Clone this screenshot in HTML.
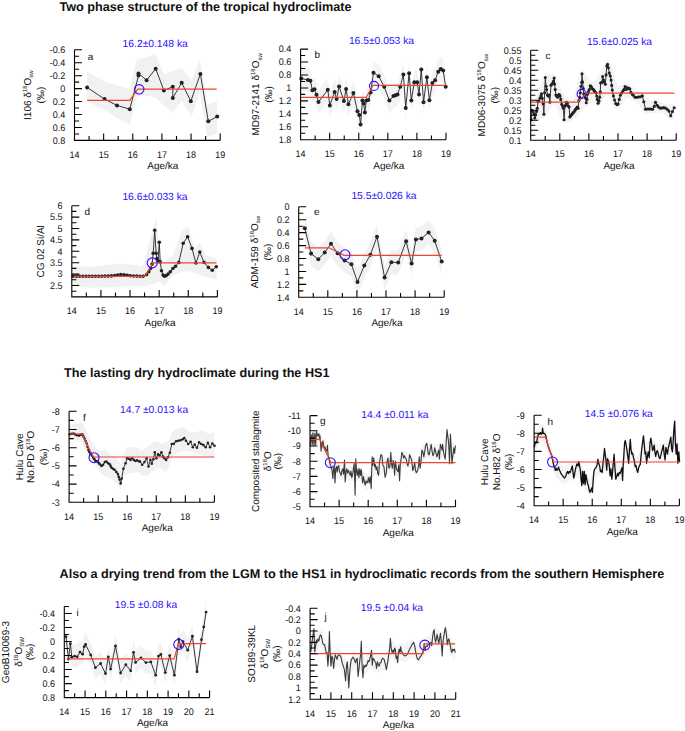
<!DOCTYPE html>
<html><head><meta charset="utf-8"><style>
html,body{margin:0;padding:0;background:#fff;width:685px;height:731px;overflow:hidden}
svg{display:block}
text{font-family:"Liberation Sans", sans-serif;text-rendering:geometricPrecision}
</style></head><body>
<svg width="685" height="731" viewBox="0 0 685 731" fill="#111">
<text x="59.5" y="10.8" font-size="12.65" font-weight="bold">Two phase structure of the tropical hydroclimate</text>
<text x="64" y="377" font-size="12.65" font-weight="bold">The lasting dry hydroclimate during the HS1</text>
<text x="59.5" y="578" font-size="12.65" font-weight="bold">Also a drying trend from the LGM to the HS1 in hydroclimatic records from the southern Hemisphere</text>
<polygon points="87.0,71.5 105.4,82.0 117.0,85.2 129.7,89.5 134.0,70.4 137.2,59.8 147.7,56.6 155.2,53.4 164.3,74.9 172.7,71.0 181.2,67.7 191.6,80.1 200.0,59.3 207.2,104.8 216.9,100.9 216.9,133.4 207.2,137.3 200.0,93.1 191.6,116.5 181.8,100.9 172.7,112.6 164.3,106.1 156.2,97.9 147.7,95.8 137.2,95.8 134.0,108.5 129.7,124.4 117.0,118.0 105.4,110.6 87.0,101.1" fill="#f1f1f1"/>
<polyline points="87.1,87.4 104.6,99.1 117.0,105.4 129.8,109.2 138.5,75.5 138.5,73.4 146.6,80.2 155.7,68.7 163.9,90.5 172.8,86.7 172.8,97.9 181.7,82.8 190.8,101.2 200.4,73.9 208.3,121.3 217.2,116.6" fill="none" stroke="#222" stroke-width="0.9" stroke-linejoin="round"/>
<circle cx="87.1" cy="87.4" r="2.0" fill="#222"/><circle cx="104.6" cy="99.1" r="2.0" fill="#222"/><circle cx="117.0" cy="105.4" r="2.0" fill="#222"/><circle cx="129.8" cy="109.2" r="2.0" fill="#222"/><circle cx="138.5" cy="75.5" r="2.0" fill="#222"/><circle cx="138.5" cy="73.4" r="2.0" fill="#222"/><circle cx="146.6" cy="80.2" r="2.0" fill="#222"/><circle cx="155.7" cy="68.7" r="2.0" fill="#222"/><circle cx="163.9" cy="90.5" r="2.0" fill="#222"/><circle cx="172.8" cy="86.7" r="2.0" fill="#222"/><circle cx="172.8" cy="97.9" r="2.0" fill="#222"/><circle cx="181.7" cy="82.8" r="2.0" fill="#222"/><circle cx="190.8" cy="101.2" r="2.0" fill="#222"/><circle cx="200.4" cy="73.9" r="2.0" fill="#222"/><circle cx="208.3" cy="121.3" r="2.0" fill="#222"/><circle cx="217.2" cy="116.6" r="2.0" fill="#222"/>
<polyline points="87.1,100.3 129.8,100.3 137.8,89.1 216.7,89.1" fill="none" stroke="#ee4433" stroke-width="1.2"/>
<circle cx="139.2" cy="89.3" r="4.7" fill="none" stroke="#2a10ff" stroke-width="1.1"/>
<text transform="translate(74.50 154.20) scale(1 1.07)" y="3.22" font-size="9" text-anchor="middle">14</text>
<text transform="translate(103.64 154.20) scale(1 1.07)" y="3.22" font-size="9" text-anchor="middle">15</text>
<text transform="translate(132.78 154.20) scale(1 1.07)" y="3.22" font-size="9" text-anchor="middle">16</text>
<text transform="translate(161.92 154.20) scale(1 1.07)" y="3.22" font-size="9" text-anchor="middle">17</text>
<text transform="translate(191.06 154.20) scale(1 1.07)" y="3.22" font-size="9" text-anchor="middle">18</text>
<text transform="translate(220.20 154.20) scale(1 1.07)" y="3.22" font-size="9" text-anchor="middle">19</text>
<text transform="translate(65.20 49.80) scale(1 1.07)" y="3.1" font-size="9" text-anchor="end">-0.6</text>
<text transform="translate(65.20 62.74) scale(1 1.07)" y="3.1" font-size="9" text-anchor="end">-0.4</text>
<text transform="translate(65.20 75.69) scale(1 1.07)" y="3.1" font-size="9" text-anchor="end">-0.2</text>
<text transform="translate(65.20 88.63) scale(1 1.07)" y="3.1" font-size="9" text-anchor="end">0</text>
<text transform="translate(65.20 101.57) scale(1 1.07)" y="3.1" font-size="9" text-anchor="end">0.2</text>
<text transform="translate(65.20 114.51) scale(1 1.07)" y="3.1" font-size="9" text-anchor="end">0.4</text>
<text transform="translate(65.20 127.46) scale(1 1.07)" y="3.1" font-size="9" text-anchor="end">0.6</text>
<text transform="translate(65.20 140.40) scale(1 1.07)" y="3.1" font-size="9" text-anchor="end">0.8</text>
<path d="M89.07 140.40V136.10M103.64 140.40V133.40M118.21 140.40V136.10M132.78 140.40V133.40M147.35 140.40V136.10M161.92 140.40V133.40M176.49 140.40V136.10M191.06 140.40V133.40M205.63 140.40V136.10M220.20 140.40V133.40M74.50 49.80H82.00M74.50 56.27H79.10M74.50 62.74H82.00M74.50 69.21H79.10M74.50 75.69H82.00M74.50 82.16H79.10M74.50 88.63H82.00M74.50 95.10H79.10M74.50 101.57H82.00M74.50 108.04H79.10M74.50 114.51H82.00M74.50 120.99H79.10M74.50 127.46H82.00M74.50 133.93H79.10M74.50 49.80V140.40H220.20" stroke="#000" stroke-width="1.1" fill="none"/>
<text x="162.85" y="169.20" font-size="10" text-anchor="middle">Age/ka</text>
<text x="87.8" y="59.8" font-size="10">a</text>
<text x="155.2" y="46.7" font-size="10.3" fill="#2a10ff" text-anchor="middle">16.2±0.148 ka</text>
<text transform="translate(30.5 95.1) rotate(-90)" font-size="10" text-anchor="middle">I106 δ<tspan font-size="6" dy="-4">18</tspan><tspan dy="4">O</tspan><tspan font-size="6" dy="2.5">sw</tspan></text>
<text transform="translate(43.5 95.1) rotate(-90)" font-size="10" text-anchor="middle">(‰)</text>
<polygon points="301.3,66.5 307.9,68.1 310.4,68.7 312.4,78.2 314.5,77.3 316.5,82.8 318.5,90.0 327.8,77.8 329.8,93.4 334.6,80.0 336.6,87.1 339.1,74.4 343.9,89.1 346.1,76.9 348.4,92.3 353.4,81.0 357.5,99.3 359.3,102.9 360.6,112.4 362.4,88.6 363.6,91.4 364.9,100.4 366.3,88.4 368.3,88.0 370.6,80.5 373.5,60.8 378.7,64.2 384.2,74.8 389.4,88.6 393.4,84.1 395.5,83.2 397.5,82.5 400.2,74.8 403.4,62.4 405.7,95.9 409.1,61.3 411.3,88.4 414.3,70.3 417.2,70.3 419.0,82.5 421.3,57.6 423.5,90.2 426.9,65.3 429.4,88.2 432.4,71.0 435.1,68.3 438.2,59.7 440.7,57.0 443.2,58.5 445.7,74.8 445.7,98.8 443.2,82.5 440.7,81.0 438.2,83.7 435.1,92.3 432.4,95.0 429.4,112.2 426.9,89.3 423.5,114.2 421.3,81.6 419.0,106.5 417.2,94.3 414.3,94.3 411.3,112.4 409.1,85.3 405.7,119.9 403.4,86.4 400.2,98.8 397.5,106.5 395.5,107.2 393.4,108.1 389.4,112.6 384.2,98.8 378.7,88.2 373.5,84.8 370.6,104.5 368.3,112.0 366.3,112.4 364.9,124.4 363.6,115.4 362.4,112.6 360.6,136.4 359.3,126.9 357.5,123.3 353.4,105.0 348.4,116.3 346.1,100.9 343.9,113.1 339.1,98.4 336.6,111.1 334.6,104.0 329.8,117.4 327.8,101.8 318.5,114.0 316.5,106.8 314.5,101.3 312.4,102.2 310.4,92.7 307.9,92.1 301.3,90.5" fill="#f3f3f3"/>
<polyline points="301.3,78.5 307.9,80.1 310.4,80.7 312.4,90.2 314.5,89.3 316.5,94.8 318.5,102.0 327.8,89.8 329.8,105.4 334.6,92.0 336.6,99.1 339.1,86.4 343.9,101.1 346.1,88.9 348.4,104.3 353.4,93.0 357.5,111.3 359.3,114.9 360.6,124.4 362.4,100.6 363.6,103.4 364.9,112.4 366.3,100.4 368.3,100.0 370.6,92.5 373.5,72.8 378.7,76.2 384.2,86.8 389.4,100.6 393.4,96.1 395.5,95.2 397.5,94.5 400.2,86.8 403.4,74.4 405.7,107.9 409.1,73.3 411.3,100.4 414.3,82.3 417.2,82.3 419.0,94.5 421.3,69.6 423.5,102.2 426.9,77.3 429.4,100.2 432.4,83.0 435.1,80.3 438.2,71.7 440.7,69.0 443.2,70.5 445.7,86.8" fill="none" stroke="#222" stroke-width="0.9" stroke-linejoin="round"/>
<circle cx="301.3" cy="78.5" r="2.0" fill="#222"/><circle cx="307.9" cy="80.1" r="2.0" fill="#222"/><circle cx="310.4" cy="80.7" r="2.0" fill="#222"/><circle cx="312.4" cy="90.2" r="2.0" fill="#222"/><circle cx="314.5" cy="89.3" r="2.0" fill="#222"/><circle cx="316.5" cy="94.8" r="2.0" fill="#222"/><circle cx="318.5" cy="102.0" r="2.0" fill="#222"/><circle cx="327.8" cy="89.8" r="2.0" fill="#222"/><circle cx="329.8" cy="105.4" r="2.0" fill="#222"/><circle cx="334.6" cy="92.0" r="2.0" fill="#222"/><circle cx="336.6" cy="99.1" r="2.0" fill="#222"/><circle cx="339.1" cy="86.4" r="2.0" fill="#222"/><circle cx="343.9" cy="101.1" r="2.0" fill="#222"/><circle cx="346.1" cy="88.9" r="2.0" fill="#222"/><circle cx="348.4" cy="104.3" r="2.0" fill="#222"/><circle cx="353.4" cy="93.0" r="2.0" fill="#222"/><circle cx="357.5" cy="111.3" r="2.0" fill="#222"/><circle cx="359.3" cy="114.9" r="2.0" fill="#222"/><circle cx="360.6" cy="124.4" r="2.0" fill="#222"/><circle cx="362.4" cy="100.6" r="2.0" fill="#222"/><circle cx="363.6" cy="103.4" r="2.0" fill="#222"/><circle cx="364.9" cy="112.4" r="2.0" fill="#222"/><circle cx="366.3" cy="100.4" r="2.0" fill="#222"/><circle cx="368.3" cy="100.0" r="2.0" fill="#222"/><circle cx="370.6" cy="92.5" r="2.0" fill="#222"/><circle cx="373.5" cy="72.8" r="2.0" fill="#222"/><circle cx="378.7" cy="76.2" r="2.0" fill="#222"/><circle cx="384.2" cy="86.8" r="2.0" fill="#222"/><circle cx="389.4" cy="100.6" r="2.0" fill="#222"/><circle cx="393.4" cy="96.1" r="2.0" fill="#222"/><circle cx="395.5" cy="95.2" r="2.0" fill="#222"/><circle cx="397.5" cy="94.5" r="2.0" fill="#222"/><circle cx="400.2" cy="86.8" r="2.0" fill="#222"/><circle cx="403.4" cy="74.4" r="2.0" fill="#222"/><circle cx="405.7" cy="107.9" r="2.0" fill="#222"/><circle cx="409.1" cy="73.3" r="2.0" fill="#222"/><circle cx="411.3" cy="100.4" r="2.0" fill="#222"/><circle cx="414.3" cy="82.3" r="2.0" fill="#222"/><circle cx="417.2" cy="82.3" r="2.0" fill="#222"/><circle cx="419.0" cy="94.5" r="2.0" fill="#222"/><circle cx="421.3" cy="69.6" r="2.0" fill="#222"/><circle cx="423.5" cy="102.2" r="2.0" fill="#222"/><circle cx="426.9" cy="77.3" r="2.0" fill="#222"/><circle cx="429.4" cy="100.2" r="2.0" fill="#222"/><circle cx="432.4" cy="83.0" r="2.0" fill="#222"/><circle cx="435.1" cy="80.3" r="2.0" fill="#222"/><circle cx="438.2" cy="71.7" r="2.0" fill="#222"/><circle cx="440.7" cy="69.0" r="2.0" fill="#222"/><circle cx="443.2" cy="70.5" r="2.0" fill="#222"/><circle cx="445.7" cy="86.8" r="2.0" fill="#222"/>
<polyline points="301.3,97.3 366.3,97.3 373.1,85.3 445.7,85.3" fill="none" stroke="#ee4433" stroke-width="1.2"/>
<circle cx="374.0" cy="85.9" r="4.5" fill="none" stroke="#2a10ff" stroke-width="1.1"/>
<text transform="translate(300.60 153.50) scale(1 1.07)" y="3.22" font-size="9" text-anchor="middle">14</text>
<text transform="translate(329.68 153.50) scale(1 1.07)" y="3.22" font-size="9" text-anchor="middle">15</text>
<text transform="translate(358.76 153.50) scale(1 1.07)" y="3.22" font-size="9" text-anchor="middle">16</text>
<text transform="translate(387.84 153.50) scale(1 1.07)" y="3.22" font-size="9" text-anchor="middle">17</text>
<text transform="translate(416.92 153.50) scale(1 1.07)" y="3.22" font-size="9" text-anchor="middle">18</text>
<text transform="translate(446.00 153.50) scale(1 1.07)" y="3.22" font-size="9" text-anchor="middle">19</text>
<text transform="translate(291.30 49.10) scale(1 1.07)" y="3.1" font-size="9" text-anchor="end">0.4</text>
<text transform="translate(291.30 62.04) scale(1 1.07)" y="3.1" font-size="9" text-anchor="end">0.6</text>
<text transform="translate(291.30 74.99) scale(1 1.07)" y="3.1" font-size="9" text-anchor="end">0.8</text>
<text transform="translate(291.30 87.93) scale(1 1.07)" y="3.1" font-size="9" text-anchor="end">1</text>
<text transform="translate(291.30 100.87) scale(1 1.07)" y="3.1" font-size="9" text-anchor="end">1.2</text>
<text transform="translate(291.30 113.81) scale(1 1.07)" y="3.1" font-size="9" text-anchor="end">1.4</text>
<text transform="translate(291.30 126.76) scale(1 1.07)" y="3.1" font-size="9" text-anchor="end">1.6</text>
<text transform="translate(291.30 139.70) scale(1 1.07)" y="3.1" font-size="9" text-anchor="end">1.8</text>
<path d="M315.14 139.70V135.40M329.68 139.70V132.70M344.22 139.70V135.40M358.76 139.70V132.70M373.30 139.70V135.40M387.84 139.70V132.70M402.38 139.70V135.40M416.92 139.70V132.70M431.46 139.70V135.40M446.00 139.70V132.70M300.60 49.10H308.10M300.60 55.57H305.20M300.60 62.04H308.10M300.60 68.51H305.20M300.60 74.99H308.10M300.60 81.46H305.20M300.60 87.93H308.10M300.60 94.40H305.20M300.60 100.87H308.10M300.60 107.34H305.20M300.60 113.81H308.10M300.60 120.29H305.20M300.60 126.76H308.10M300.60 133.23H305.20M300.60 49.10V139.70H446.00" stroke="#000" stroke-width="1.1" fill="none"/>
<text x="388.80" y="168.50" font-size="10" text-anchor="middle">Age/ka</text>
<text x="314.4" y="57.9" font-size="10">b</text>
<text x="381.5" y="43.8" font-size="10.3" fill="#2a10ff" text-anchor="middle">16.5±0.053 ka</text>
<text transform="translate(259.2 94.4) rotate(-90)" font-size="10" text-anchor="middle">MD97-2141 δ<tspan font-size="6" dy="-4">18</tspan><tspan dy="4">O</tspan><tspan font-size="6" dy="2.5">sw</tspan></text>
<text transform="translate(272.2 94.4) rotate(-90)" font-size="10" text-anchor="middle">(‰)</text>
<polygon points="531.3,103.4 532.9,101.2 534.5,98.9 536.1,95.6 537.7,92.1 539.3,87.3 540.9,83.2 542.5,79.9 544.1,76.6 545.7,73.5 547.3,73.6 548.9,73.7 550.5,73.8 552.2,74.0 553.8,74.1 555.4,75.3 557.0,78.6 558.6,81.8 560.2,85.5 561.8,90.3 563.4,93.9 565.0,95.4 566.6,97.0 568.2,98.9 569.8,99.9 571.4,100.9 573.0,99.9 574.6,96.0 576.2,89.5 577.8,82.8 579.4,76.1 581.1,71.4 582.7,69.7 584.3,72.1 585.9,74.5 587.5,76.9 589.1,79.3 590.7,81.7 592.3,82.2 593.9,81.6 595.5,79.8 597.1,78.0 598.7,76.2 600.3,71.8 601.9,68.1 603.5,65.6 605.1,63.1 606.7,60.7 608.3,60.3 609.9,62.1 611.6,65.2 613.2,71.6 614.8,77.3 616.4,82.6 618.0,85.3 619.6,86.6 621.2,84.8 622.8,83.5 624.4,82.5 626.0,82.8 627.6,83.0 629.2,83.4 630.8,84.5 632.4,86.0 634.0,87.6 635.6,89.2 637.2,90.7 638.8,91.4 640.4,91.8 642.1,91.9 643.7,93.0 645.3,95.7 646.9,98.3 648.5,99.6 650.1,100.8 651.7,101.0 653.3,99.6 654.9,98.3 656.5,98.9 658.1,99.8 659.7,100.9 661.3,101.9 662.9,103.0 664.5,103.6 666.1,103.8 667.7,103.8 669.3,103.9 670.9,103.9 672.6,103.9 674.2,103.8 674.2,119.7 672.6,119.7 670.9,119.7 669.3,118.8 667.7,117.5 666.1,116.0 664.5,114.5 662.9,113.0 661.3,112.4 659.7,112.4 658.1,112.6 656.5,112.8 654.9,113.1 653.3,113.3 651.7,113.3 650.1,113.3 648.5,113.3 646.9,113.3 645.3,113.3 643.7,111.8 642.1,109.4 640.4,107.0 638.8,104.6 637.2,102.2 635.6,101.3 634.0,100.9 632.4,100.2 630.8,99.3 629.2,98.1 627.6,97.7 626.0,98.5 624.4,100.5 622.8,102.9 621.2,105.6 619.6,107.5 618.0,108.5 616.4,108.6 614.8,107.7 613.2,105.9 611.6,103.0 609.9,98.9 608.3,94.9 606.7,94.3 605.1,95.8 603.5,98.4 601.9,102.2 600.3,106.0 598.7,107.2 597.1,106.5 595.5,104.4 593.9,103.6 592.3,103.5 590.7,103.4 589.1,104.1 587.5,106.0 585.9,106.7 584.3,107.8 582.7,109.1 581.1,111.0 579.4,113.2 577.8,115.8 576.2,117.5 574.6,119.1 573.0,120.1 571.4,120.7 569.8,121.5 568.2,122.0 566.6,122.6 565.0,123.1 563.4,123.7 561.8,120.9 560.2,116.9 558.6,112.4 557.0,108.9 555.4,105.4 553.8,104.6 552.2,105.2 550.5,108.6 548.9,111.0 547.3,113.4 545.7,115.8 544.1,118.2 542.5,118.3 540.9,119.1 539.3,119.8 537.7,120.9 536.1,122.0 534.5,123.0 532.9,123.3 531.3,123.7" fill="#f3f3f3"/>
<polyline points="531.3,119.7 531.8,110.4 532.9,111.5 534.0,113.7 534.8,118.0 535.7,114.7 536.5,111.5 537.3,108.2 538.1,101.6 538.9,101.1 540.0,98.3 540.9,96.1 541.5,93.9 542.2,98.3 543.1,103.8 543.9,114.2 544.6,92.8 545.3,77.5 546.1,86.3 546.6,89.6 547.5,95.0 548.3,96.1 549.0,95.0 549.9,102.2 551.0,85.2 551.9,84.1 552.6,83.5 553.4,81.4 554.1,78.1 554.6,84.1 555.2,89.6 555.9,95.0 556.7,96.1 557.6,97.2 558.4,95.0 559.2,94.5 560.0,96.1 560.8,99.4 561.7,104.3 562.5,106.0 563.3,108.2 564.1,119.7 565.0,106.0 565.8,104.9 566.5,102.2 567.4,103.2 568.3,106.0 569.1,107.1 569.8,116.9 570.7,115.8 571.6,114.7 572.3,113.7 573.1,112.6 574.0,112.0 574.9,110.4 575.6,109.3 576.4,108.2 577.3,107.1 578.1,108.2 578.9,100.5 579.7,97.2 580.3,92.8 581.1,86.3 581.7,82.4 582.0,73.7 582.5,81.9 583.3,88.5 583.8,93.9 584.4,96.1 585.2,95.0 585.8,98.3 586.3,102.7 586.9,99.4 587.7,93.9 588.4,91.8 589.3,89.6 590.2,85.7 591.0,86.3 591.7,87.9 592.6,89.0 593.5,89.6 594.2,90.7 595.0,91.8 595.9,92.8 596.8,96.1 597.3,99.4 598.1,103.2 599.0,101.1 599.7,97.2 600.3,91.8 600.6,83.0 601.8,82.4 602.6,76.6 603.5,80.1 604.4,81.9 605.3,84.2 606.1,74.9 606.8,66.1 607.6,64.3 608.4,67.8 609.3,73.1 610.3,76.0 611.1,80.1 611.7,85.4 612.3,90.0 613.4,95.9 614.6,100.0 615.8,103.5 616.9,104.6 618.1,104.1 619.3,99.4 620.4,95.3 621.6,93.0 622.8,91.2 623.9,89.5 625.1,86.5 626.3,89.5 627.4,87.7 628.6,88.3 629.8,88.9 630.9,92.4 632.1,94.1 633.3,95.3 635.0,97.3 636.8,97.3 638.5,97.0 640.3,96.8 642.3,95.9 643.8,101.7 645.5,109.3 647.3,109.0 649.1,109.0 650.8,109.0 652.6,109.3 654.3,106.4 655.5,102.3 657.2,105.2 658.4,107.0 660.1,108.1 661.9,108.1 663.6,107.6 665.4,108.1 667.2,109.3 668.9,111.1 670.7,115.7 672.4,111.6 674.2,107.8" fill="none" stroke="#333" stroke-width="1.0" stroke-linejoin="round"/>
<circle cx="531.3" cy="119.7" r="1.55" fill="#222"/><circle cx="531.8" cy="110.4" r="1.55" fill="#222"/><circle cx="532.9" cy="111.5" r="1.55" fill="#222"/><circle cx="534.0" cy="113.7" r="1.55" fill="#222"/><circle cx="534.8" cy="118.0" r="1.55" fill="#222"/><circle cx="535.7" cy="114.7" r="1.55" fill="#222"/><circle cx="536.5" cy="111.5" r="1.55" fill="#222"/><circle cx="537.3" cy="108.2" r="1.55" fill="#222"/><circle cx="538.1" cy="101.6" r="1.55" fill="#222"/><circle cx="538.9" cy="101.1" r="1.55" fill="#222"/><circle cx="540.0" cy="98.3" r="1.55" fill="#222"/><circle cx="540.9" cy="96.1" r="1.55" fill="#222"/><circle cx="541.5" cy="93.9" r="1.55" fill="#222"/><circle cx="542.2" cy="98.3" r="1.55" fill="#222"/><circle cx="543.1" cy="103.8" r="1.55" fill="#222"/><circle cx="543.9" cy="114.2" r="1.55" fill="#222"/><circle cx="544.6" cy="92.8" r="1.55" fill="#222"/><circle cx="545.3" cy="77.5" r="1.55" fill="#222"/><circle cx="546.1" cy="86.3" r="1.55" fill="#222"/><circle cx="546.6" cy="89.6" r="1.55" fill="#222"/><circle cx="547.5" cy="95.0" r="1.55" fill="#222"/><circle cx="548.3" cy="96.1" r="1.55" fill="#222"/><circle cx="549.0" cy="95.0" r="1.55" fill="#222"/><circle cx="549.9" cy="102.2" r="1.55" fill="#222"/><circle cx="551.0" cy="85.2" r="1.55" fill="#222"/><circle cx="551.9" cy="84.1" r="1.55" fill="#222"/><circle cx="552.6" cy="83.5" r="1.55" fill="#222"/><circle cx="553.4" cy="81.4" r="1.55" fill="#222"/><circle cx="554.1" cy="78.1" r="1.55" fill="#222"/><circle cx="554.6" cy="84.1" r="1.55" fill="#222"/><circle cx="555.2" cy="89.6" r="1.55" fill="#222"/><circle cx="555.9" cy="95.0" r="1.55" fill="#222"/><circle cx="556.7" cy="96.1" r="1.55" fill="#222"/><circle cx="557.6" cy="97.2" r="1.55" fill="#222"/><circle cx="558.4" cy="95.0" r="1.55" fill="#222"/><circle cx="559.2" cy="94.5" r="1.55" fill="#222"/><circle cx="560.0" cy="96.1" r="1.55" fill="#222"/><circle cx="560.8" cy="99.4" r="1.55" fill="#222"/><circle cx="561.7" cy="104.3" r="1.55" fill="#222"/><circle cx="562.5" cy="106.0" r="1.55" fill="#222"/><circle cx="563.3" cy="108.2" r="1.55" fill="#222"/><circle cx="564.1" cy="119.7" r="1.55" fill="#222"/><circle cx="565.0" cy="106.0" r="1.55" fill="#222"/><circle cx="565.8" cy="104.9" r="1.55" fill="#222"/><circle cx="566.5" cy="102.2" r="1.55" fill="#222"/><circle cx="567.4" cy="103.2" r="1.55" fill="#222"/><circle cx="568.3" cy="106.0" r="1.55" fill="#222"/><circle cx="569.1" cy="107.1" r="1.55" fill="#222"/><circle cx="569.8" cy="116.9" r="1.55" fill="#222"/><circle cx="570.7" cy="115.8" r="1.55" fill="#222"/><circle cx="571.6" cy="114.7" r="1.55" fill="#222"/><circle cx="572.3" cy="113.7" r="1.55" fill="#222"/><circle cx="573.1" cy="112.6" r="1.55" fill="#222"/><circle cx="574.0" cy="112.0" r="1.55" fill="#222"/><circle cx="574.9" cy="110.4" r="1.55" fill="#222"/><circle cx="575.6" cy="109.3" r="1.55" fill="#222"/><circle cx="576.4" cy="108.2" r="1.55" fill="#222"/><circle cx="577.3" cy="107.1" r="1.55" fill="#222"/><circle cx="578.1" cy="108.2" r="1.55" fill="#222"/><circle cx="578.9" cy="100.5" r="1.55" fill="#222"/><circle cx="579.7" cy="97.2" r="1.55" fill="#222"/><circle cx="580.3" cy="92.8" r="1.55" fill="#222"/><circle cx="581.1" cy="86.3" r="1.55" fill="#222"/><circle cx="581.7" cy="82.4" r="1.55" fill="#222"/><circle cx="582.0" cy="73.7" r="1.55" fill="#222"/><circle cx="582.5" cy="81.9" r="1.55" fill="#222"/><circle cx="583.3" cy="88.5" r="1.55" fill="#222"/><circle cx="583.8" cy="93.9" r="1.55" fill="#222"/><circle cx="584.4" cy="96.1" r="1.55" fill="#222"/><circle cx="585.2" cy="95.0" r="1.55" fill="#222"/><circle cx="585.8" cy="98.3" r="1.55" fill="#222"/><circle cx="586.3" cy="102.7" r="1.55" fill="#222"/><circle cx="586.9" cy="99.4" r="1.55" fill="#222"/><circle cx="587.7" cy="93.9" r="1.55" fill="#222"/><circle cx="588.4" cy="91.8" r="1.55" fill="#222"/><circle cx="589.3" cy="89.6" r="1.55" fill="#222"/><circle cx="590.2" cy="85.7" r="1.55" fill="#222"/><circle cx="591.0" cy="86.3" r="1.55" fill="#222"/><circle cx="591.7" cy="87.9" r="1.55" fill="#222"/><circle cx="592.6" cy="89.0" r="1.55" fill="#222"/><circle cx="593.5" cy="89.6" r="1.55" fill="#222"/><circle cx="594.2" cy="90.7" r="1.55" fill="#222"/><circle cx="595.0" cy="91.8" r="1.55" fill="#222"/><circle cx="595.9" cy="92.8" r="1.55" fill="#222"/><circle cx="596.8" cy="96.1" r="1.55" fill="#222"/><circle cx="597.3" cy="99.4" r="1.55" fill="#222"/><circle cx="598.1" cy="103.2" r="1.55" fill="#222"/><circle cx="599.0" cy="101.1" r="1.55" fill="#222"/><circle cx="599.7" cy="97.2" r="1.55" fill="#222"/><circle cx="600.3" cy="91.8" r="1.55" fill="#222"/><circle cx="600.6" cy="83.0" r="1.55" fill="#222"/><circle cx="601.8" cy="82.4" r="1.55" fill="#222"/><circle cx="602.6" cy="76.6" r="1.55" fill="#222"/><circle cx="603.5" cy="80.1" r="1.55" fill="#222"/><circle cx="604.4" cy="81.9" r="1.55" fill="#222"/><circle cx="605.3" cy="84.2" r="1.55" fill="#222"/><circle cx="606.1" cy="74.9" r="1.55" fill="#222"/><circle cx="606.8" cy="66.1" r="1.55" fill="#222"/><circle cx="607.6" cy="64.3" r="1.55" fill="#222"/><circle cx="608.4" cy="67.8" r="1.55" fill="#222"/><circle cx="609.3" cy="73.1" r="1.55" fill="#222"/><circle cx="610.3" cy="76.0" r="1.55" fill="#222"/><circle cx="611.1" cy="80.1" r="1.55" fill="#222"/><circle cx="611.7" cy="85.4" r="1.55" fill="#222"/><circle cx="612.3" cy="90.0" r="1.55" fill="#222"/><circle cx="613.4" cy="95.9" r="1.55" fill="#222"/><circle cx="614.6" cy="100.0" r="1.55" fill="#222"/><circle cx="615.8" cy="103.5" r="1.55" fill="#222"/><circle cx="616.9" cy="104.6" r="1.55" fill="#222"/><circle cx="618.1" cy="104.1" r="1.55" fill="#222"/><circle cx="619.3" cy="99.4" r="1.55" fill="#222"/><circle cx="620.4" cy="95.3" r="1.55" fill="#222"/><circle cx="621.6" cy="93.0" r="1.55" fill="#222"/><circle cx="622.8" cy="91.2" r="1.55" fill="#222"/><circle cx="623.9" cy="89.5" r="1.55" fill="#222"/><circle cx="625.1" cy="86.5" r="1.55" fill="#222"/><circle cx="626.3" cy="89.5" r="1.55" fill="#222"/><circle cx="627.4" cy="87.7" r="1.55" fill="#222"/><circle cx="628.6" cy="88.3" r="1.55" fill="#222"/><circle cx="629.8" cy="88.9" r="1.55" fill="#222"/><circle cx="630.9" cy="92.4" r="1.55" fill="#222"/><circle cx="632.1" cy="94.1" r="1.55" fill="#222"/><circle cx="633.3" cy="95.3" r="1.55" fill="#222"/><circle cx="635.0" cy="97.3" r="1.55" fill="#222"/><circle cx="636.8" cy="97.3" r="1.55" fill="#222"/><circle cx="638.5" cy="97.0" r="1.55" fill="#222"/><circle cx="640.3" cy="96.8" r="1.55" fill="#222"/><circle cx="642.3" cy="95.9" r="1.55" fill="#222"/><circle cx="643.8" cy="101.7" r="1.55" fill="#222"/><circle cx="645.5" cy="109.3" r="1.55" fill="#222"/><circle cx="647.3" cy="109.0" r="1.55" fill="#222"/><circle cx="649.1" cy="109.0" r="1.55" fill="#222"/><circle cx="650.8" cy="109.0" r="1.55" fill="#222"/><circle cx="652.6" cy="109.3" r="1.55" fill="#222"/><circle cx="654.3" cy="106.4" r="1.55" fill="#222"/><circle cx="655.5" cy="102.3" r="1.55" fill="#222"/><circle cx="657.2" cy="105.2" r="1.55" fill="#222"/><circle cx="658.4" cy="107.0" r="1.55" fill="#222"/><circle cx="660.1" cy="108.1" r="1.55" fill="#222"/><circle cx="661.9" cy="108.1" r="1.55" fill="#222"/><circle cx="663.6" cy="107.6" r="1.55" fill="#222"/><circle cx="665.4" cy="108.1" r="1.55" fill="#222"/><circle cx="667.2" cy="109.3" r="1.55" fill="#222"/><circle cx="668.9" cy="111.1" r="1.55" fill="#222"/><circle cx="670.7" cy="115.7" r="1.55" fill="#222"/><circle cx="672.4" cy="111.6" r="1.55" fill="#222"/><circle cx="674.2" cy="107.8" r="1.55" fill="#222"/>
<polyline points="530.7,102.2 577.5,102.2 586.6,93.2 674.4,93.2" fill="none" stroke="#ee4433" stroke-width="1.2"/>
<circle cx="581.6" cy="93.9" r="4.5" fill="none" stroke="#2a10ff" stroke-width="1.1"/>
<text transform="translate(530.70 154.00) scale(1 1.07)" y="3.22" font-size="9" text-anchor="middle">14</text>
<text transform="translate(559.80 154.00) scale(1 1.07)" y="3.22" font-size="9" text-anchor="middle">15</text>
<text transform="translate(588.90 154.00) scale(1 1.07)" y="3.22" font-size="9" text-anchor="middle">16</text>
<text transform="translate(618.00 154.00) scale(1 1.07)" y="3.22" font-size="9" text-anchor="middle">17</text>
<text transform="translate(647.10 154.00) scale(1 1.07)" y="3.22" font-size="9" text-anchor="middle">18</text>
<text transform="translate(676.20 154.00) scale(1 1.07)" y="3.22" font-size="9" text-anchor="middle">19</text>
<text transform="translate(521.40 50.20) scale(1 1.07)" y="3.1" font-size="9" text-anchor="end">0.55</text>
<text transform="translate(521.40 60.20) scale(1 1.07)" y="3.1" font-size="9" text-anchor="end">0.5</text>
<text transform="translate(521.40 70.20) scale(1 1.07)" y="3.1" font-size="9" text-anchor="end">0.45</text>
<text transform="translate(521.40 80.20) scale(1 1.07)" y="3.1" font-size="9" text-anchor="end">0.4</text>
<text transform="translate(521.40 90.20) scale(1 1.07)" y="3.1" font-size="9" text-anchor="end">0.35</text>
<text transform="translate(521.40 100.20) scale(1 1.07)" y="3.1" font-size="9" text-anchor="end">0.3</text>
<text transform="translate(521.40 110.20) scale(1 1.07)" y="3.1" font-size="9" text-anchor="end">0.25</text>
<text transform="translate(521.40 120.20) scale(1 1.07)" y="3.1" font-size="9" text-anchor="end">0.2</text>
<text transform="translate(521.40 130.20) scale(1 1.07)" y="3.1" font-size="9" text-anchor="end">0.15</text>
<text transform="translate(521.40 140.20) scale(1 1.07)" y="3.1" font-size="9" text-anchor="end">0.1</text>
<path d="M545.25 140.20V135.90M559.80 140.20V133.20M574.35 140.20V135.90M588.90 140.20V133.20M603.45 140.20V135.90M618.00 140.20V133.20M632.55 140.20V135.90M647.10 140.20V133.20M661.65 140.20V135.90M676.20 140.20V133.20M530.70 50.20H538.20M530.70 55.20H535.30M530.70 60.20H538.20M530.70 65.20H535.30M530.70 70.20H538.20M530.70 75.20H535.30M530.70 80.20H538.20M530.70 85.20H535.30M530.70 90.20H538.20M530.70 95.20H535.30M530.70 100.20H538.20M530.70 105.20H535.30M530.70 110.20H538.20M530.70 115.20H535.30M530.70 120.20H538.20M530.70 125.20H535.30M530.70 130.20H538.20M530.70 135.20H535.30M530.70 50.20V140.20H676.20" stroke="#000" stroke-width="1.1" fill="none"/>
<text x="618.95" y="169.00" font-size="10" text-anchor="middle">Age/ka</text>
<text x="545.4" y="58.9" font-size="10">c</text>
<text x="619.5" y="44.6" font-size="10.3" fill="#2a10ff" text-anchor="middle">15.6±0.025 ka</text>
<text transform="translate(485.3 95.2) rotate(-90)" font-size="10" text-anchor="middle">MD06-3075 δ<tspan font-size="6" dy="-4">18</tspan><tspan dy="4">O</tspan><tspan font-size="6" dy="2.5">sw</tspan></text>
<text transform="translate(498.1 95.2) rotate(-90)" font-size="10" text-anchor="middle">(‰)</text>
<polygon points="73.3,265.9 91.9,266.7 113.8,264.1 124.7,263.7 142.3,266.3 146.6,253.2 153.2,226.9 156.5,218.1 159.8,257.6 164.2,261.9 172.9,255.4 181.7,231.3 188.2,226.9 194.8,248.8 199.2,242.2 205.8,255.4 214.5,257.6 216.7,257.6 216.7,279.4 205.8,277.3 194.8,272.9 188.2,270.7 179.5,272.9 172.9,275.1 164.2,286.0 159.8,281.6 153.2,283.8 146.6,286.0 135.7,286.0 113.8,287.1 91.9,287.8 73.3,286.0" fill="#f1f1f1"/>
<polyline points="73.3,276.2 76.5,276.2 79.6,276.2 82.8,276.2 86.0,276.2 89.2,276.2 92.3,276.2 95.5,276.2 98.7,276.2 101.9,276.2 105.0,276.1 108.2,276.1 111.4,275.9 114.6,275.5 117.7,275.0 120.9,274.6 124.1,274.8 127.3,275.3 130.4,275.8 133.6,276.0 136.8,276.1 140.0,276.2 143.1,276.2 146.6,274.6 148.8,271.8 150.6,268.5 152.1,264.1 153.2,253.2 154.7,230.2 156.1,253.2 156.9,258.6 158.0,260.8 159.3,242.2 160.2,261.9 161.5,270.7 163.1,275.1 164.6,276.2 166.3,275.5 168.1,274.0 170.3,271.8 172.9,268.5 175.5,266.3 178.8,262.4 183.2,243.3 187.6,236.7 192.0,248.4 195.9,263.0 199.8,252.1 204.0,262.4 208.4,267.4 212.3,270.3 216.3,266.7" fill="none" stroke="#222" stroke-width="0.9" stroke-linejoin="round"/>
<circle cx="73.3" cy="276.2" r="1.8" fill="#222"/><circle cx="76.5" cy="276.2" r="1.8" fill="#222"/><circle cx="79.6" cy="276.2" r="1.8" fill="#222"/><circle cx="82.8" cy="276.2" r="1.8" fill="#222"/><circle cx="86.0" cy="276.2" r="1.8" fill="#222"/><circle cx="89.2" cy="276.2" r="1.8" fill="#222"/><circle cx="92.3" cy="276.2" r="1.8" fill="#222"/><circle cx="95.5" cy="276.2" r="1.8" fill="#222"/><circle cx="98.7" cy="276.2" r="1.8" fill="#222"/><circle cx="101.9" cy="276.2" r="1.8" fill="#222"/><circle cx="105.0" cy="276.1" r="1.8" fill="#222"/><circle cx="108.2" cy="276.1" r="1.8" fill="#222"/><circle cx="111.4" cy="275.9" r="1.8" fill="#222"/><circle cx="114.6" cy="275.5" r="1.8" fill="#222"/><circle cx="117.7" cy="275.0" r="1.8" fill="#222"/><circle cx="120.9" cy="274.6" r="1.8" fill="#222"/><circle cx="124.1" cy="274.8" r="1.8" fill="#222"/><circle cx="127.3" cy="275.3" r="1.8" fill="#222"/><circle cx="130.4" cy="275.8" r="1.8" fill="#222"/><circle cx="133.6" cy="276.0" r="1.8" fill="#222"/><circle cx="136.8" cy="276.1" r="1.8" fill="#222"/><circle cx="140.0" cy="276.2" r="1.8" fill="#222"/><circle cx="143.1" cy="276.2" r="1.8" fill="#222"/><circle cx="146.6" cy="274.6" r="1.8" fill="#222"/><circle cx="148.8" cy="271.8" r="1.8" fill="#222"/><circle cx="150.6" cy="268.5" r="1.8" fill="#222"/><circle cx="152.1" cy="264.1" r="1.8" fill="#222"/><circle cx="153.2" cy="253.2" r="1.8" fill="#222"/><circle cx="154.7" cy="230.2" r="1.8" fill="#222"/><circle cx="156.1" cy="253.2" r="1.8" fill="#222"/><circle cx="156.9" cy="258.6" r="1.8" fill="#222"/><circle cx="158.0" cy="260.8" r="1.8" fill="#222"/><circle cx="159.3" cy="242.2" r="1.8" fill="#222"/><circle cx="160.2" cy="261.9" r="1.8" fill="#222"/><circle cx="161.5" cy="270.7" r="1.8" fill="#222"/><circle cx="163.1" cy="275.1" r="1.8" fill="#222"/><circle cx="164.6" cy="276.2" r="1.8" fill="#222"/><circle cx="166.3" cy="275.5" r="1.8" fill="#222"/><circle cx="168.1" cy="274.0" r="1.8" fill="#222"/><circle cx="170.3" cy="271.8" r="1.8" fill="#222"/><circle cx="172.9" cy="268.5" r="1.8" fill="#222"/><circle cx="175.5" cy="266.3" r="1.8" fill="#222"/><circle cx="178.8" cy="262.4" r="1.8" fill="#222"/><circle cx="183.2" cy="243.3" r="1.8" fill="#222"/><circle cx="187.6" cy="236.7" r="1.8" fill="#222"/><circle cx="192.0" cy="248.4" r="1.8" fill="#222"/><circle cx="195.9" cy="263.0" r="1.8" fill="#222"/><circle cx="199.8" cy="252.1" r="1.8" fill="#222"/><circle cx="204.0" cy="262.4" r="1.8" fill="#222"/><circle cx="208.4" cy="267.4" r="1.8" fill="#222"/><circle cx="212.3" cy="270.3" r="1.8" fill="#222"/><circle cx="216.3" cy="266.7" r="1.8" fill="#222"/>
<polyline points="73.7,276.3 144.9,276.3 152.9,262.9 216.5,262.9" fill="none" stroke="#ee4433" stroke-width="1.2"/>
<circle cx="152.2" cy="262.9" r="5" fill="none" stroke="#2a10ff" stroke-width="1.1"/>
<text transform="translate(71.80 310.70) scale(1 1.07)" y="3.22" font-size="9" text-anchor="middle">14</text>
<text transform="translate(100.92 310.70) scale(1 1.07)" y="3.22" font-size="9" text-anchor="middle">15</text>
<text transform="translate(130.04 310.70) scale(1 1.07)" y="3.22" font-size="9" text-anchor="middle">16</text>
<text transform="translate(159.16 310.70) scale(1 1.07)" y="3.22" font-size="9" text-anchor="middle">17</text>
<text transform="translate(188.28 310.70) scale(1 1.07)" y="3.22" font-size="9" text-anchor="middle">18</text>
<text transform="translate(217.40 310.70) scale(1 1.07)" y="3.22" font-size="9" text-anchor="middle">19</text>
<text transform="translate(62.50 205.70) scale(1 1.07)" y="3.1" font-size="9" text-anchor="end">6</text>
<text transform="translate(62.50 217.10) scale(1 1.07)" y="3.1" font-size="9" text-anchor="end">5.5</text>
<text transform="translate(62.50 228.50) scale(1 1.07)" y="3.1" font-size="9" text-anchor="end">5</text>
<text transform="translate(62.50 239.90) scale(1 1.07)" y="3.1" font-size="9" text-anchor="end">4.5</text>
<text transform="translate(62.50 251.30) scale(1 1.07)" y="3.1" font-size="9" text-anchor="end">4</text>
<text transform="translate(62.50 262.70) scale(1 1.07)" y="3.1" font-size="9" text-anchor="end">3.5</text>
<text transform="translate(62.50 274.10) scale(1 1.07)" y="3.1" font-size="9" text-anchor="end">3</text>
<text transform="translate(62.50 285.50) scale(1 1.07)" y="3.1" font-size="9" text-anchor="end">2.5</text>
<path d="M86.36 296.90V292.60M100.92 296.90V289.90M115.48 296.90V292.60M130.04 296.90V289.90M144.60 296.90V292.60M159.16 296.90V289.90M173.72 296.90V292.60M188.28 296.90V289.90M202.84 296.90V292.60M217.40 296.90V289.90M71.80 205.70H79.30M71.80 211.40H76.40M71.80 217.10H79.30M71.80 222.80H76.40M71.80 228.50H79.30M71.80 234.20H76.40M71.80 239.90H79.30M71.80 245.60H76.40M71.80 251.30H79.30M71.80 257.00H76.40M71.80 262.70H79.30M71.80 268.40H76.40M71.80 274.10H79.30M71.80 279.80H76.40M71.80 285.50H79.30M71.80 291.20H76.40M71.80 205.70V296.90H217.40" stroke="#000" stroke-width="1.1" fill="none"/>
<text x="160.10" y="325.70" font-size="10" text-anchor="middle">Age/ka</text>
<text x="84.6" y="214.7" font-size="10">d</text>
<text x="155.0" y="199.6" font-size="10.3" fill="#2a10ff" text-anchor="middle">16.6±0.033 ka</text>
<text transform="translate(44.3 251.3) rotate(-90)" font-size="10" text-anchor="middle">CG 02 Si/Al</text>
<polygon points="304.8,216.3 311.1,241.6 318.3,247.3 324.7,240.5 331.0,231.7 337.6,241.2 344.6,248.4 351.4,252.3 357.5,269.9 364.3,253.6 370.4,242.8 377.0,224.7 384.6,265.6 391.4,250.2 398.2,250.5 406.1,229.2 411.6,251.4 415.9,227.6 421.5,226.5 428.6,220.4 434.7,228.7 441.7,249.6 441.7,273.6 434.7,252.7 428.6,244.4 421.5,250.5 415.9,251.6 411.6,275.4 406.1,253.2 398.2,274.5 391.4,274.2 384.6,289.6 377.0,248.7 370.4,266.8 364.3,277.6 357.5,293.9 351.4,276.3 344.6,272.4 337.6,265.2 331.0,255.7 324.7,264.5 318.3,271.3 311.1,265.6 304.8,240.3" fill="#f1f1f1"/>
<polyline points="304.8,228.3 311.1,253.6 318.3,259.3 324.7,252.5 331.0,243.7 337.6,253.2 344.6,260.4 351.4,264.3 357.5,281.9 364.3,265.6 370.4,254.8 377.0,236.7 384.6,277.6 391.4,262.2 398.2,262.5 406.1,241.2 411.6,263.4 415.9,239.6 421.5,238.5 428.6,232.4 434.7,240.7 441.7,261.6" fill="none" stroke="#222" stroke-width="0.9" stroke-linejoin="round"/>
<circle cx="304.8" cy="228.3" r="2.0" fill="#222"/><circle cx="311.1" cy="253.6" r="2.0" fill="#222"/><circle cx="318.3" cy="259.3" r="2.0" fill="#222"/><circle cx="324.7" cy="252.5" r="2.0" fill="#222"/><circle cx="331.0" cy="243.7" r="2.0" fill="#222"/><circle cx="337.6" cy="253.2" r="2.0" fill="#222"/><circle cx="344.6" cy="260.4" r="2.0" fill="#222"/><circle cx="351.4" cy="264.3" r="2.0" fill="#222"/><circle cx="357.5" cy="281.9" r="2.0" fill="#222"/><circle cx="364.3" cy="265.6" r="2.0" fill="#222"/><circle cx="370.4" cy="254.8" r="2.0" fill="#222"/><circle cx="377.0" cy="236.7" r="2.0" fill="#222"/><circle cx="384.6" cy="277.6" r="2.0" fill="#222"/><circle cx="391.4" cy="262.2" r="2.0" fill="#222"/><circle cx="398.2" cy="262.5" r="2.0" fill="#222"/><circle cx="406.1" cy="241.2" r="2.0" fill="#222"/><circle cx="411.6" cy="263.4" r="2.0" fill="#222"/><circle cx="415.9" cy="239.6" r="2.0" fill="#222"/><circle cx="421.5" cy="238.5" r="2.0" fill="#222"/><circle cx="428.6" cy="232.4" r="2.0" fill="#222"/><circle cx="434.7" cy="240.7" r="2.0" fill="#222"/><circle cx="441.7" cy="261.6" r="2.0" fill="#222"/>
<polyline points="304.8,247.8 329.2,247.8 343.9,255.4 441.7,255.4" fill="none" stroke="#ee4433" stroke-width="1.2"/>
<circle cx="345.0" cy="254.8" r="5" fill="none" stroke="#2a10ff" stroke-width="1.1"/>
<text transform="translate(298.70 311.10) scale(1 1.07)" y="3.22" font-size="9" text-anchor="middle">14</text>
<text transform="translate(327.80 311.10) scale(1 1.07)" y="3.22" font-size="9" text-anchor="middle">15</text>
<text transform="translate(356.90 311.10) scale(1 1.07)" y="3.22" font-size="9" text-anchor="middle">16</text>
<text transform="translate(386.00 311.10) scale(1 1.07)" y="3.22" font-size="9" text-anchor="middle">17</text>
<text transform="translate(415.10 311.10) scale(1 1.07)" y="3.22" font-size="9" text-anchor="middle">18</text>
<text transform="translate(444.20 311.10) scale(1 1.07)" y="3.22" font-size="9" text-anchor="middle">19</text>
<text transform="translate(289.40 206.80) scale(1 1.07)" y="3.1" font-size="9" text-anchor="end">0</text>
<text transform="translate(289.40 219.73) scale(1 1.07)" y="3.1" font-size="9" text-anchor="end">0.2</text>
<text transform="translate(289.40 232.66) scale(1 1.07)" y="3.1" font-size="9" text-anchor="end">0.4</text>
<text transform="translate(289.40 245.59) scale(1 1.07)" y="3.1" font-size="9" text-anchor="end">0.6</text>
<text transform="translate(289.40 258.51) scale(1 1.07)" y="3.1" font-size="9" text-anchor="end">0.8</text>
<text transform="translate(289.40 271.44) scale(1 1.07)" y="3.1" font-size="9" text-anchor="end">1</text>
<text transform="translate(289.40 284.37) scale(1 1.07)" y="3.1" font-size="9" text-anchor="end">1.2</text>
<text transform="translate(289.40 297.30) scale(1 1.07)" y="3.1" font-size="9" text-anchor="end">1.4</text>
<path d="M313.25 297.30V293.00M327.80 297.30V290.30M342.35 297.30V293.00M356.90 297.30V290.30M371.45 297.30V293.00M386.00 297.30V290.30M400.55 297.30V293.00M415.10 297.30V290.30M429.65 297.30V293.00M444.20 297.30V290.30M298.70 206.80H306.20M298.70 213.26H303.30M298.70 219.73H306.20M298.70 226.19H303.30M298.70 232.66H306.20M298.70 239.12H303.30M298.70 245.59H306.20M298.70 252.05H303.30M298.70 258.51H306.20M298.70 264.98H303.30M298.70 271.44H306.20M298.70 277.91H303.30M298.70 284.37H306.20M298.70 290.84H303.30M298.70 206.80V297.30H444.20" stroke="#000" stroke-width="1.1" fill="none"/>
<text x="386.95" y="326.10" font-size="10" text-anchor="middle">Age/ka</text>
<text x="314.1" y="215.4" font-size="10">e</text>
<text x="384.0" y="199.2" font-size="10.3" fill="#2a10ff" text-anchor="middle">15.5±0.026 ka</text>
<text transform="translate(257.7 252.1) rotate(-90)" font-size="10" text-anchor="middle">ADM-159 δ<tspan font-size="6" dy="-4">18</tspan><tspan dy="4">O</tspan><tspan font-size="6" dy="2.5">sw</tspan></text>
<text transform="translate(270.5 252.1) rotate(-90)" font-size="10" text-anchor="middle">(‰)</text>
<polygon points="69.7,424.9 75.8,423.2 82.3,422.7 86.7,431.4 92.2,443.5 97.7,450.0 102.0,451.1 105.3,448.9 110.8,454.4 116.3,457.7 120.7,464.3 123.9,453.3 126.7,447.8 132.7,446.8 139.3,447.8 140.0,451.1 146.6,447.8 154.2,441.3 161.9,443.5 168.5,441.3 171.8,432.5 177.2,428.1 183.8,427.0 188.2,431.4 194.7,432.5 201.3,430.3 207.9,433.6 214.5,432.5 214.5,456.6 205.7,456.6 196.9,453.3 188.2,451.1 183.8,451.1 177.2,453.3 172.8,456.6 168.5,467.6 165.2,471.9 159.7,467.6 153.1,470.8 146.6,476.3 140.0,475.2 139.3,471.9 132.7,473.0 126.7,474.1 123.9,476.3 120.7,489.5 116.3,482.9 110.8,478.5 104.2,476.3 99.8,471.9 94.4,464.3 88.9,457.7 84.5,447.8 80.1,440.2 75.8,440.2 69.7,440.2" fill="#f1f1f1"/>
<polyline points="69.7,434.2 71.6,433.8 73.6,433.6 75.2,434.5 76.9,435.3 79.0,435.6 80.7,434.9 82.3,434.2 83.4,436.4 84.5,438.5 85.6,441.1 86.7,443.5 87.6,446.8 88.4,450.0 89.4,452.0 90.5,453.9 92.0,455.7 93.3,457.7 94.4,459.3 95.5,461.0 96.6,461.3 97.7,461.5 98.8,463.0 99.8,464.3 101.5,465.9 103.1,464.8 104.8,462.1 106.4,461.5 108.1,463.2 109.7,464.3 110.6,465.9 111.3,467.6 113.0,468.7 114.6,469.7 116.3,471.9 117.9,474.1 118.7,476.9 119.6,479.6 120.7,483.4 121.7,478.5 123.4,468.7 125.6,463.2 127.2,458.2 128.9,458.8 130.5,459.9 132.1,458.2 133.8,459.9 135.4,461.0 137.1,460.4 139.3,461.5 140.0,461.5 142.2,464.8 144.4,462.1 146.6,458.2 148.5,466.5 150.4,459.9 151.8,463.7 153.4,459.3 154.8,452.2 156.4,458.2 158.1,454.4 159.7,455.5 161.4,452.2 163.0,456.6 164.3,458.2 166.1,459.9 167.9,457.2 169.8,452.8 171.8,444.0 173.9,443.7 176.1,441.3 178.3,440.7 180.5,440.2 182.7,439.3 184.3,438.0 186.0,440.7 188.2,444.0 190.6,441.8 192.8,447.3 194.7,444.6 196.9,447.8 199.1,442.4 201.3,444.0 203.5,445.1 205.7,447.3 207.9,442.9 210.1,447.3 212.3,443.5 214.5,445.7" fill="none" stroke="#222" stroke-width="0.9" stroke-linejoin="round"/>
<circle cx="69.7" cy="434.2" r="1.3" fill="#222"/><circle cx="71.6" cy="433.8" r="1.3" fill="#222"/><circle cx="73.6" cy="433.6" r="1.3" fill="#222"/><circle cx="75.2" cy="434.5" r="1.3" fill="#222"/><circle cx="76.9" cy="435.3" r="1.3" fill="#222"/><circle cx="79.0" cy="435.6" r="1.3" fill="#222"/><circle cx="80.7" cy="434.9" r="1.3" fill="#222"/><circle cx="82.3" cy="434.2" r="1.3" fill="#222"/><circle cx="83.4" cy="436.4" r="1.3" fill="#222"/><circle cx="84.5" cy="438.5" r="1.3" fill="#222"/><circle cx="85.6" cy="441.1" r="1.3" fill="#222"/><circle cx="86.7" cy="443.5" r="1.3" fill="#222"/><circle cx="87.6" cy="446.8" r="1.3" fill="#222"/><circle cx="88.4" cy="450.0" r="1.3" fill="#222"/><circle cx="89.4" cy="452.0" r="1.3" fill="#222"/><circle cx="90.5" cy="453.9" r="1.3" fill="#222"/><circle cx="92.0" cy="455.7" r="1.3" fill="#222"/><circle cx="93.3" cy="457.7" r="1.3" fill="#222"/><circle cx="94.4" cy="459.3" r="1.3" fill="#222"/><circle cx="95.5" cy="461.0" r="1.3" fill="#222"/><circle cx="96.6" cy="461.3" r="1.3" fill="#222"/><circle cx="97.7" cy="461.5" r="1.3" fill="#222"/><circle cx="98.8" cy="463.0" r="1.3" fill="#222"/><circle cx="99.8" cy="464.3" r="1.3" fill="#222"/><circle cx="101.5" cy="465.9" r="1.3" fill="#222"/><circle cx="103.1" cy="464.8" r="1.3" fill="#222"/><circle cx="104.8" cy="462.1" r="1.3" fill="#222"/><circle cx="106.4" cy="461.5" r="1.3" fill="#222"/><circle cx="108.1" cy="463.2" r="1.3" fill="#222"/><circle cx="109.7" cy="464.3" r="1.3" fill="#222"/><circle cx="110.6" cy="465.9" r="1.3" fill="#222"/><circle cx="111.3" cy="467.6" r="1.3" fill="#222"/><circle cx="113.0" cy="468.7" r="1.3" fill="#222"/><circle cx="114.6" cy="469.7" r="1.3" fill="#222"/><circle cx="116.3" cy="471.9" r="1.3" fill="#222"/><circle cx="117.9" cy="474.1" r="1.3" fill="#222"/><circle cx="118.7" cy="476.9" r="1.3" fill="#222"/><circle cx="119.6" cy="479.6" r="1.3" fill="#222"/><circle cx="120.7" cy="483.4" r="1.3" fill="#222"/><circle cx="121.7" cy="478.5" r="1.3" fill="#222"/><circle cx="123.4" cy="468.7" r="1.3" fill="#222"/><circle cx="125.6" cy="463.2" r="1.3" fill="#222"/><circle cx="127.2" cy="458.2" r="1.3" fill="#222"/><circle cx="128.9" cy="458.8" r="1.3" fill="#222"/><circle cx="130.5" cy="459.9" r="1.3" fill="#222"/><circle cx="132.1" cy="458.2" r="1.3" fill="#222"/><circle cx="133.8" cy="459.9" r="1.3" fill="#222"/><circle cx="135.4" cy="461.0" r="1.3" fill="#222"/><circle cx="137.1" cy="460.4" r="1.3" fill="#222"/><circle cx="139.3" cy="461.5" r="1.3" fill="#222"/><circle cx="140.0" cy="461.5" r="1.3" fill="#222"/><circle cx="142.2" cy="464.8" r="1.3" fill="#222"/><circle cx="144.4" cy="462.1" r="1.3" fill="#222"/><circle cx="146.6" cy="458.2" r="1.3" fill="#222"/><circle cx="148.5" cy="466.5" r="1.3" fill="#222"/><circle cx="150.4" cy="459.9" r="1.3" fill="#222"/><circle cx="151.8" cy="463.7" r="1.3" fill="#222"/><circle cx="153.4" cy="459.3" r="1.3" fill="#222"/><circle cx="154.8" cy="452.2" r="1.3" fill="#222"/><circle cx="156.4" cy="458.2" r="1.3" fill="#222"/><circle cx="158.1" cy="454.4" r="1.3" fill="#222"/><circle cx="159.7" cy="455.5" r="1.3" fill="#222"/><circle cx="161.4" cy="452.2" r="1.3" fill="#222"/><circle cx="163.0" cy="456.6" r="1.3" fill="#222"/><circle cx="164.3" cy="458.2" r="1.3" fill="#222"/><circle cx="166.1" cy="459.9" r="1.3" fill="#222"/><circle cx="167.9" cy="457.2" r="1.3" fill="#222"/><circle cx="169.8" cy="452.8" r="1.3" fill="#222"/><circle cx="171.8" cy="444.0" r="1.3" fill="#222"/><circle cx="173.9" cy="443.7" r="1.3" fill="#222"/><circle cx="176.1" cy="441.3" r="1.3" fill="#222"/><circle cx="178.3" cy="440.7" r="1.3" fill="#222"/><circle cx="180.5" cy="440.2" r="1.3" fill="#222"/><circle cx="182.7" cy="439.3" r="1.3" fill="#222"/><circle cx="184.3" cy="438.0" r="1.3" fill="#222"/><circle cx="186.0" cy="440.7" r="1.3" fill="#222"/><circle cx="188.2" cy="444.0" r="1.3" fill="#222"/><circle cx="190.6" cy="441.8" r="1.3" fill="#222"/><circle cx="192.8" cy="447.3" r="1.3" fill="#222"/><circle cx="194.7" cy="444.6" r="1.3" fill="#222"/><circle cx="196.9" cy="447.8" r="1.3" fill="#222"/><circle cx="199.1" cy="442.4" r="1.3" fill="#222"/><circle cx="201.3" cy="444.0" r="1.3" fill="#222"/><circle cx="203.5" cy="445.1" r="1.3" fill="#222"/><circle cx="205.7" cy="447.3" r="1.3" fill="#222"/><circle cx="207.9" cy="442.9" r="1.3" fill="#222"/><circle cx="210.1" cy="447.3" r="1.3" fill="#222"/><circle cx="212.3" cy="443.5" r="1.3" fill="#222"/><circle cx="214.5" cy="445.7" r="1.3" fill="#222"/>
<polyline points="69.1,434.0 82.0,434.0 93.3,457.0 214.4,457.0" fill="none" stroke="#ee4433" stroke-width="1.2"/>
<circle cx="94.0" cy="457.7" r="5" fill="none" stroke="#2a10ff" stroke-width="1.1"/>
<text transform="translate(69.10 516.10) scale(1 1.07)" y="3.22" font-size="9" text-anchor="middle">14</text>
<text transform="translate(98.16 516.10) scale(1 1.07)" y="3.22" font-size="9" text-anchor="middle">15</text>
<text transform="translate(127.22 516.10) scale(1 1.07)" y="3.22" font-size="9" text-anchor="middle">16</text>
<text transform="translate(156.28 516.10) scale(1 1.07)" y="3.22" font-size="9" text-anchor="middle">17</text>
<text transform="translate(185.34 516.10) scale(1 1.07)" y="3.22" font-size="9" text-anchor="middle">18</text>
<text transform="translate(214.40 516.10) scale(1 1.07)" y="3.22" font-size="9" text-anchor="middle">19</text>
<text transform="translate(59.80 411.30) scale(1 1.07)" y="3.1" font-size="9" text-anchor="end">-8</text>
<text transform="translate(59.80 429.50) scale(1 1.07)" y="3.1" font-size="9" text-anchor="end">-7</text>
<text transform="translate(59.80 447.70) scale(1 1.07)" y="3.1" font-size="9" text-anchor="end">-6</text>
<text transform="translate(59.80 465.90) scale(1 1.07)" y="3.1" font-size="9" text-anchor="end">-5</text>
<text transform="translate(59.80 484.10) scale(1 1.07)" y="3.1" font-size="9" text-anchor="end">-4</text>
<text transform="translate(59.80 502.30) scale(1 1.07)" y="3.1" font-size="9" text-anchor="end">-3</text>
<path d="M83.63 502.30V498.00M98.16 502.30V495.30M112.69 502.30V498.00M127.22 502.30V495.30M141.75 502.30V498.00M156.28 502.30V495.30M170.81 502.30V498.00M185.34 502.30V495.30M199.87 502.30V498.00M214.40 502.30V495.30M69.10 411.30H76.60M69.10 420.40H73.70M69.10 429.50H76.60M69.10 438.60H73.70M69.10 447.70H76.60M69.10 456.80H73.70M69.10 465.90H76.60M69.10 475.00H73.70M69.10 484.10H76.60M69.10 493.20H73.70M69.10 411.30V502.30H214.40" stroke="#000" stroke-width="1.1" fill="none"/>
<text x="157.25" y="531.10" font-size="10" text-anchor="middle">Age/ka</text>
<text x="82.9" y="421.3" font-size="10">f</text>
<text x="154.1" y="413.1" font-size="10.3" fill="#2a10ff" text-anchor="middle">14.7 ±0.013 ka</text>
<text transform="translate(23.2 456.8) rotate(-90)" font-size="10" text-anchor="middle">Hulu Cave</text>
<text transform="translate(34.2 456.8) rotate(-90)" font-size="10" text-anchor="middle">No.PD δ<tspan font-size="6" dy="-4">18</tspan><tspan dy="4">O</tspan></text>
<text transform="translate(46.5 456.8) rotate(-90)" font-size="10" text-anchor="middle">(‰)</text>
<polygon points="310.2,432.8 311.3,431.5 312.2,432.3 312.9,431.2 314.0,430.8 314.8,429.6 315.7,429.5 316.5,428.7 317.6,429.1 318.4,428.9 318.9,430.9 319.5,430.6 320.0,432.3 320.6,432.9 321.1,434.3 321.7,435.8 322.2,437.3 323.0,438.9 323.9,439.1 325.0,439.5 326.1,441.2 326.8,442.9 327.5,445.7 328.0,447.7 328.8,450.4 329.6,453.4 330.4,455.4 331.3,457.8 332.1,460.9 332.9,462.1 333.5,462.6 334.3,463.4 335.0,463.4 335.7,462.7 336.5,461.9 337.2,462.4 337.9,463.4 338.7,462.0 339.4,462.0 340.3,462.9 341.1,461.5 341.9,463.2 342.8,463.8 343.6,463.6 344.5,463.6 345.2,463.0 346.1,463.3 346.9,464.0 347.6,463.7 348.5,465.6 349.4,464.8 350.2,464.5 351.0,463.9 351.8,466.3 352.7,465.1 353.4,464.8 354.2,464.8 355.1,464.6 355.8,464.6 356.5,464.0 357.3,464.7 358.1,465.4 358.9,463.4 359.8,466.0 360.6,466.6 361.3,467.4 362.0,469.2 362.7,469.6 363.5,471.1 364.4,471.9 365.2,472.7 366.0,473.4 366.9,472.7 367.7,474.1 368.4,471.3 369.3,469.1 370.2,466.5 371.2,464.7 372.1,462.7 372.8,461.9 373.7,460.1 374.6,459.7 375.3,458.2 376.1,459.0 377.0,457.8 377.7,457.5 378.6,457.3 379.4,457.6 380.9,458.5 382.0,459.2 382.8,457.9 384.0,455.9 385.1,456.5 386.3,457.7 387.1,457.4 388.0,457.1 388.9,457.2 390.0,455.3 390.8,454.3 391.4,455.8 392.3,456.2 393.1,456.1 393.9,456.6 394.6,458.8 395.4,459.0 396.2,460.4 397.1,460.8 398.0,460.3 398.8,457.7 399.6,457.0 400.3,456.0 401.1,454.3 401.9,452.8 402.8,452.2 403.6,450.3 404.5,450.5 405.3,450.9 406.2,451.2 407.1,451.4 407.9,451.7 408.7,453.3 409.6,454.5 410.5,454.8 411.7,455.6 412.8,456.3 413.6,457.2 414.7,458.5 415.5,458.5 416.4,459.4 417.6,458.4 418.5,456.3 419.3,455.1 420.1,453.6 421.0,451.2 421.9,448.4 422.7,445.8 423.8,445.0 424.8,443.4 425.5,442.7 426.7,442.7 427.6,441.9 428.4,441.4 429.2,441.9 430.1,442.8 431.2,443.3 432.2,443.7 432.9,443.9 433.9,443.8 434.7,443.8 435.8,445.5 436.9,444.6 437.8,443.6 438.6,443.2 439.4,442.8 440.4,442.7 441.3,442.6 442.1,443.2 442.6,442.7 443.4,439.4 444.3,438.5 445.2,437.7 446.0,437.5 447.0,439.6 447.8,437.7 448.3,436.9 448.9,437.4 449.5,438.4 450.4,440.4 451.2,442.3 452.0,442.9 452.9,443.3 453.8,441.6 454.6,444.1 455.4,445.0 455.4,461.0 454.6,460.1 453.8,457.6 452.9,459.3 452.0,458.9 451.2,458.3 450.4,456.4 449.5,454.4 448.9,453.4 448.3,452.9 447.8,453.7 447.0,455.6 446.0,453.5 445.2,453.7 444.3,454.5 443.4,455.4 442.6,458.7 442.1,459.2 441.3,458.6 440.4,458.7 439.4,458.8 438.6,459.2 437.8,459.6 436.9,460.6 435.8,461.5 434.7,459.8 433.9,459.8 432.9,459.9 432.2,459.7 431.2,459.3 430.1,458.8 429.2,457.9 428.4,457.4 427.6,457.9 426.7,458.7 425.5,458.7 424.8,459.4 423.8,461.0 422.7,461.8 421.9,464.4 421.0,467.2 420.1,469.6 419.3,471.1 418.5,472.3 417.6,474.4 416.4,475.4 415.5,474.5 414.7,474.5 413.6,473.2 412.8,472.3 411.7,471.6 410.5,470.8 409.6,470.5 408.7,469.3 407.9,467.7 407.1,467.4 406.2,467.2 405.3,466.9 404.5,466.5 403.6,466.3 402.8,468.2 401.9,468.8 401.1,470.3 400.3,472.0 399.6,473.0 398.8,473.7 398.0,476.3 397.1,476.8 396.2,476.4 395.4,475.0 394.6,474.8 393.9,472.6 393.1,472.1 392.3,472.2 391.4,471.8 390.8,470.3 390.0,471.3 388.9,473.2 388.0,473.1 387.1,473.4 386.3,473.7 385.1,472.5 384.0,471.9 382.8,473.9 382.0,475.2 380.9,474.5 379.4,473.6 378.6,473.3 377.7,473.5 377.0,473.8 376.1,475.0 375.3,474.2 374.6,475.7 373.7,476.1 372.8,477.9 372.1,478.7 371.2,480.7 370.2,482.5 369.3,485.1 368.4,487.3 367.7,490.1 366.9,488.7 366.0,489.4 365.2,488.7 364.4,487.9 363.5,487.1 362.7,485.6 362.0,485.2 361.3,483.4 360.6,482.6 359.8,482.0 358.9,479.4 358.1,481.4 357.3,480.7 356.5,480.0 355.8,480.6 355.1,480.6 354.2,480.8 353.4,480.8 352.7,481.1 351.8,482.3 351.0,479.9 350.2,480.5 349.4,480.8 348.5,481.6 347.6,479.7 346.9,480.0 346.1,479.3 345.2,479.0 344.5,479.6 343.6,479.6 342.8,479.8 341.9,479.2 341.1,477.5 340.3,478.9 339.4,478.0 338.7,478.0 337.9,479.4 337.2,478.4 336.5,477.9 335.7,478.7 335.0,479.4 334.3,479.4 333.5,478.6 332.9,478.1 332.1,476.9 331.3,473.8 330.4,471.4 329.6,469.4 328.8,466.4 328.0,463.7 327.5,461.7 326.8,458.9 326.1,457.2 325.0,455.5 323.9,455.1 323.0,454.9 322.2,453.3 321.7,451.8 321.1,450.3 320.6,448.9 320.0,448.3 319.5,446.6 318.9,446.9 318.4,444.9 317.6,445.1 316.5,444.7 315.7,445.5 314.8,445.6 314.0,446.8 312.9,447.2 312.2,448.3 311.3,447.5 310.2,448.8" fill="#f4f4f4"/>
<polyline points="310.2,445.8 311.3,434.9 312.2,444.7 312.9,432.7 314.0,445.8 314.8,433.2 315.7,444.7 316.5,431.6 317.6,435.9 318.4,434.9 318.9,433.8 319.5,438.1 320.0,435.9 320.6,443.6 321.1,451.3 321.7,442.5 322.2,446.9 323.0,440.9 323.9,448.0 325.0,446.9 326.1,451.3 326.8,450.7 327.5,445.3 328.0,455.1 328.8,457.8 329.6,462.2 330.4,465.5 331.3,466.6 332.1,471.0 332.9,478.7 333.5,468.8 334.3,466.6 335.0,483.0 335.7,468.8 336.5,466.6 337.2,472.1 337.9,466.6 338.7,465.5 339.4,471.0 340.3,473.2 341.1,475.4 341.9,471.0 342.8,468.8 343.6,474.3 344.5,460.0 345.2,481.9 346.1,471.0 346.9,468.8 347.6,473.2 348.5,470.4 349.4,473.2 350.2,475.4 351.0,471.0 351.8,477.6 352.7,474.3 353.4,468.8 354.2,463.3 355.1,495.1 355.8,458.9 356.5,471.0 357.3,475.4 358.1,468.8 358.9,477.6 359.8,468.8 360.6,475.4 361.3,469.9 362.0,476.5 362.7,483.0 363.5,476.5 364.4,481.9 365.2,485.2 366.0,480.8 366.9,483.0 367.7,481.9 368.4,477.6 369.3,483.0 370.2,476.5 371.2,488.5 372.1,456.8 372.8,465.5 373.7,457.8 374.6,466.6 375.3,464.4 376.1,469.9 377.0,466.6 377.7,473.2 378.6,475.4 379.4,463.3 380.9,454.6 382.0,455.7 382.8,464.9 384.0,467.1 385.1,477.4 386.3,472.8 387.1,461.4 388.0,458.0 388.9,468.3 390.0,466.0 390.8,452.3 391.4,462.6 392.3,468.3 393.1,460.3 393.9,463.7 394.6,475.1 395.4,461.4 396.2,467.1 397.1,470.5 398.0,471.7 398.8,464.9 399.6,480.8 400.3,463.7 401.1,459.2 401.9,452.3 402.8,454.6 403.6,458.0 404.5,455.7 405.3,458.0 406.2,459.2 407.1,463.7 407.9,466.0 408.7,462.6 409.6,454.6 410.5,456.9 411.7,460.3 412.8,470.5 413.6,468.3 414.7,462.6 415.5,470.5 416.4,472.8 417.6,470.5 418.5,466.0 419.3,456.9 420.1,468.3 421.0,461.4 421.9,450.1 422.7,451.2 423.8,456.9 424.8,451.2 425.5,445.5 426.7,443.2 427.6,448.9 428.4,454.6 429.2,454.6 430.1,450.1 431.2,444.4 432.2,452.3 432.9,455.7 433.9,453.5 434.7,447.8 435.8,452.3 436.9,456.9 437.8,453.5 438.6,450.1 439.4,459.2 440.4,444.4 441.3,446.6 442.1,450.1 442.6,444.4 443.4,451.2 444.3,455.7 445.2,459.2 446.0,445.5 447.0,429.6 447.8,436.4 448.3,439.8 448.9,447.8 449.5,463.7 450.4,434.1 451.2,447.8 452.0,463.7 452.9,454.6 453.8,447.8 454.6,453.5 455.4,445.5" fill="none" stroke="#3a3a3a" stroke-width="1.1" stroke-linejoin="round"/>
<polyline points="310.0,439.4 319.7,439.4 331.0,462.7 455.5,462.7" fill="none" stroke="#ee4433" stroke-width="1.2"/>
<circle cx="330.3" cy="462.7" r="5" fill="none" stroke="#2a10ff" stroke-width="1.1"/>
<text transform="translate(310.00 520.60) scale(1 1.07)" y="3.22" font-size="9" text-anchor="middle">14</text>
<text transform="translate(339.10 520.60) scale(1 1.07)" y="3.22" font-size="9" text-anchor="middle">15</text>
<text transform="translate(368.20 520.60) scale(1 1.07)" y="3.22" font-size="9" text-anchor="middle">16</text>
<text transform="translate(397.30 520.60) scale(1 1.07)" y="3.22" font-size="9" text-anchor="middle">17</text>
<text transform="translate(426.40 520.60) scale(1 1.07)" y="3.22" font-size="9" text-anchor="middle">18</text>
<text transform="translate(455.50 520.60) scale(1 1.07)" y="3.22" font-size="9" text-anchor="middle">19</text>
<text transform="translate(300.70 415.60) scale(1 1.07)" y="3.1" font-size="9" text-anchor="end">-11</text>
<text transform="translate(300.70 430.80) scale(1 1.07)" y="3.1" font-size="9" text-anchor="end">-10</text>
<text transform="translate(300.70 446.00) scale(1 1.07)" y="3.1" font-size="9" text-anchor="end">-9</text>
<text transform="translate(300.70 461.20) scale(1 1.07)" y="3.1" font-size="9" text-anchor="end">-8</text>
<text transform="translate(300.70 476.40) scale(1 1.07)" y="3.1" font-size="9" text-anchor="end">-7</text>
<text transform="translate(300.70 491.60) scale(1 1.07)" y="3.1" font-size="9" text-anchor="end">-6</text>
<text transform="translate(300.70 506.80) scale(1 1.07)" y="3.1" font-size="9" text-anchor="end">-5</text>
<path d="M324.55 506.80V502.50M339.10 506.80V499.80M353.65 506.80V502.50M368.20 506.80V499.80M382.75 506.80V502.50M397.30 506.80V499.80M411.85 506.80V502.50M426.40 506.80V499.80M440.95 506.80V502.50M455.50 506.80V499.80M310.00 415.60H317.50M310.00 423.20H314.60M310.00 430.80H317.50M310.00 438.40H314.60M310.00 446.00H317.50M310.00 453.60H314.60M310.00 461.20H317.50M310.00 468.80H314.60M310.00 476.40H317.50M310.00 484.00H314.60M310.00 491.60H317.50M310.00 499.20H314.60M310.00 415.60V506.80H455.50" stroke="#000" stroke-width="1.1" fill="none"/>
<text x="398.25" y="535.60" font-size="10" text-anchor="middle">Age/ka</text>
<text x="320.0" y="424.3" font-size="10">g</text>
<text x="394.9" y="417.8" font-size="10.3" fill="#2a10ff" text-anchor="middle">14.4 ±0.011 ka</text>
<text transform="translate(258.7 461.2) rotate(-90)" font-size="10" text-anchor="middle">Composited stalagmite</text>
<text transform="translate(271.0 461.2) rotate(-90)" font-size="10" text-anchor="middle">δ<tspan font-size="6" dy="-4">18</tspan><tspan dy="4">O</tspan></text>
<text transform="translate(280.7 461.2) rotate(-90)" font-size="10" text-anchor="middle">(‰)</text>
<polygon points="534.2,433.9 535.1,432.6 535.8,431.5 536.6,430.7 537.3,429.9 538.0,428.5 538.8,427.3 539.7,425.8 540.5,424.7 541.3,424.1 542.1,424.0 542.6,424.2 543.2,424.7 544.0,425.9 544.9,427.2 545.7,428.9 546.5,431.4 547.3,433.6 548.2,436.0 549.0,438.7 549.7,441.7 550.6,444.6 551.5,447.3 552.3,450.0 553.0,452.2 553.9,454.4 554.7,456.2 555.2,457.5 556.1,458.9 557.0,459.9 557.7,460.8 558.6,461.6 559.4,462.2 560.2,463.2 561.0,464.0 561.8,464.9 562.7,465.7 563.5,466.0 564.4,466.0 565.4,466.0 566.2,465.6 566.8,465.3 567.6,464.5 568.4,463.4 569.2,462.2 570.1,462.1 570.9,462.7 571.6,463.1 572.3,462.7 573.1,462.2 573.8,461.2 574.5,460.8 575.2,460.0 576.0,460.0 576.9,459.7 578.0,459.8 578.9,461.0 579.6,461.1 580.4,462.9 581.1,463.8 581.8,465.9 582.6,467.3 583.5,468.8 584.3,470.2 585.1,471.0 585.9,471.5 586.7,473.8 587.6,474.5 588.4,476.3 589.2,477.2 590.0,477.9 590.9,477.1 591.7,475.5 592.4,473.5 593.1,471.0 593.9,467.9 594.6,464.5 595.5,461.9 596.4,458.9 597.1,457.8 597.9,457.7 598.8,458.1 599.7,457.6 600.4,456.5 601.2,454.7 602.1,454.7 603.0,455.4 603.7,454.6 604.5,453.5 605.9,452.9 606.7,453.3 607.5,453.9 608.4,456.3 609.3,458.7 610.1,458.8 610.9,457.1 611.8,458.2 612.7,460.2 613.5,461.5 614.1,461.2 615.0,462.0 615.8,461.2 616.6,461.6 617.5,462.7 618.4,464.3 619.2,465.5 620.0,464.0 620.9,461.7 621.9,458.3 622.6,454.4 623.2,451.4 623.8,448.7 624.6,447.1 625.3,446.6 626.1,443.1 626.9,440.2 627.8,439.5 628.7,440.7 629.5,442.1 630.3,443.5 631.0,444.8 631.8,445.9 632.6,446.2 633.5,448.5 634.4,452.1 635.2,454.1 636.0,455.4 636.9,456.7 637.8,456.3 638.6,454.8 639.5,451.9 640.3,448.6 641.2,445.8 642.0,443.8 642.8,442.0 643.5,441.7 644.3,440.9 645.1,440.6 645.8,441.7 646.6,442.0 647.4,442.3 648.3,442.1 649.2,441.7 650.0,441.4 650.8,439.3 651.7,438.8 652.6,439.3 653.4,438.7 654.2,439.6 654.9,441.4 655.7,442.9 656.5,443.8 657.4,444.5 658.3,445.3 659.1,444.9 659.9,443.6 660.8,443.9 661.6,444.9 662.5,444.1 663.3,443.4 664.2,442.9 665.1,442.1 665.9,441.4 666.7,440.6 667.4,439.7 668.2,439.1 669.0,438.2 669.9,437.7 670.8,435.3 671.6,431.6 672.4,431.0 673.1,432.0 673.9,432.3 674.7,435.2 675.4,435.5 676.2,436.7 677.0,437.0 677.9,439.5 678.8,444.0 679.6,446.1 679.6,464.1 678.8,462.0 677.9,457.5 677.0,455.0 676.2,454.7 675.4,453.5 674.7,453.2 673.9,450.3 673.1,450.0 672.4,449.0 671.6,449.6 670.8,453.3 669.9,455.7 669.0,456.2 668.2,457.1 667.4,457.7 666.7,458.6 665.9,459.4 665.1,460.1 664.2,460.9 663.3,461.4 662.5,462.1 661.6,462.9 660.8,461.9 659.9,461.6 659.1,462.9 658.3,463.3 657.4,462.5 656.5,461.8 655.7,460.9 654.9,459.4 654.2,457.6 653.4,456.7 652.6,457.3 651.7,456.8 650.8,457.3 650.0,459.4 649.2,459.7 648.3,460.1 647.4,460.3 646.6,460.0 645.8,459.7 645.1,458.6 644.3,458.9 643.5,459.7 642.8,460.0 642.0,461.8 641.2,463.8 640.3,466.6 639.5,469.9 638.6,472.8 637.8,474.3 636.9,474.7 636.0,473.4 635.2,472.1 634.4,470.1 633.5,466.5 632.6,464.2 631.8,463.9 631.0,462.8 630.3,461.5 629.5,460.1 628.7,458.7 627.8,457.5 626.9,458.2 626.1,461.1 625.3,464.6 624.6,465.1 623.8,466.7 623.2,469.4 622.6,472.4 621.9,476.3 620.9,479.7 620.0,482.0 619.2,483.5 618.4,482.3 617.5,480.7 616.6,479.6 615.8,479.2 615.0,480.0 614.1,479.2 613.5,479.5 612.7,478.2 611.8,476.2 610.9,475.1 610.1,476.8 609.3,476.7 608.4,474.3 607.5,471.9 606.7,471.3 605.9,470.9 604.5,471.5 603.7,472.6 603.0,473.4 602.1,472.7 601.2,472.7 600.4,474.5 599.7,475.6 598.8,476.1 597.9,475.7 597.1,475.8 596.4,476.9 595.5,479.9 594.6,482.5 593.9,485.9 593.1,489.0 592.4,491.5 591.7,493.5 590.9,495.1 590.0,495.9 589.2,495.2 588.4,494.3 587.6,492.5 586.7,491.8 585.9,489.5 585.1,489.0 584.3,488.2 583.5,486.8 582.6,485.3 581.8,483.9 581.1,481.8 580.4,480.9 579.6,479.1 578.9,479.0 578.0,477.8 576.9,477.7 576.0,478.0 575.2,478.0 574.5,478.8 573.8,479.2 573.1,480.2 572.3,480.7 571.6,481.1 570.9,480.7 570.1,480.1 569.2,480.2 568.4,481.4 567.6,482.5 566.8,483.3 566.2,483.6 565.4,484.0 564.4,484.0 563.5,484.0 562.7,483.7 561.8,482.9 561.0,482.0 560.2,481.2 559.4,480.2 558.6,479.6 557.7,478.8 557.0,477.9 556.1,476.9 555.2,475.5 554.7,474.2 553.9,472.4 553.0,470.2 552.3,468.0 551.5,465.3 550.6,462.6 549.7,459.7 549.0,456.7 548.2,454.0 547.3,451.6 546.5,449.4 545.7,446.9 544.9,445.2 544.0,443.9 543.2,442.7 542.6,442.2 542.1,442.0 541.3,442.1 540.5,442.7 539.7,443.8 538.8,445.3 538.0,446.5 537.3,447.9 536.6,448.7 535.8,449.5 535.1,450.6 534.2,451.9" fill="#f3f3f3"/>
<polyline points="534.2,447.4 535.1,443.5 535.8,441.9 536.6,443.0 537.3,438.6 538.0,435.3 538.8,433.7 539.7,434.2 540.5,432.6 541.3,434.2 542.1,433.1 542.6,428.2 543.2,433.7 544.0,433.1 544.9,434.2 545.7,435.3 546.5,439.2 547.3,443.0 548.2,446.3 549.0,448.5 549.7,450.7 550.6,452.8 551.5,455.0 552.3,458.3 553.0,462.2 553.9,466.0 554.7,467.1 555.2,470.4 556.1,468.2 557.0,470.4 557.7,469.3 558.6,467.1 559.4,470.4 560.2,471.5 561.0,473.7 561.8,474.7 562.7,475.8 563.5,476.9 564.4,478.0 565.4,476.9 566.2,474.7 566.8,472.6 567.6,471.5 568.4,473.7 569.2,471.5 570.1,472.6 570.9,470.4 571.6,468.2 572.3,466.0 573.1,473.7 573.8,478.0 574.5,474.7 575.2,470.4 576.0,467.1 576.9,463.8 578.0,466.0 578.9,461.6 579.6,466.0 580.4,470.4 581.1,479.1 581.8,485.7 582.6,471.5 583.5,483.5 584.3,471.5 585.1,484.6 585.9,474.7 586.7,479.1 587.6,483.5 588.4,485.7 589.2,490.1 590.0,492.3 590.9,490.1 591.7,487.9 592.4,492.3 593.1,481.3 593.9,471.5 594.6,469.3 595.5,468.2 596.4,467.1 597.1,464.9 597.9,459.4 598.8,463.8 599.7,466.0 600.4,471.5 601.2,470.4 602.1,472.6 603.0,463.8 603.7,457.2 604.5,448.5 605.9,459.9 606.7,470.1 607.5,458.7 608.4,461.0 609.3,465.5 610.1,475.8 610.9,469.0 611.8,479.2 612.7,470.1 613.5,461.0 614.1,454.2 615.0,469.0 615.8,479.2 616.6,476.9 617.5,473.5 618.4,475.8 619.2,472.4 620.0,473.5 620.9,471.2 621.9,467.8 622.6,480.4 623.2,465.5 623.8,456.4 624.6,442.8 625.3,440.5 626.1,445.1 626.9,449.6 627.8,456.4 628.7,463.3 629.5,449.6 630.3,439.4 631.0,449.6 631.8,454.2 632.6,453.0 633.5,457.6 634.4,461.0 635.2,466.7 636.0,465.5 636.9,470.1 637.8,472.4 638.6,467.8 639.5,465.5 640.3,464.4 641.2,454.2 642.0,447.3 642.8,440.5 643.5,435.9 644.3,445.1 645.1,454.2 645.8,451.9 646.6,463.3 647.4,456.4 648.3,451.9 649.2,457.6 650.0,442.8 650.8,438.2 651.7,443.9 652.6,450.7 653.4,448.5 654.2,445.1 654.9,451.9 655.7,456.4 656.5,451.9 657.4,450.7 658.3,454.2 659.1,457.6 659.9,458.7 660.8,455.3 661.6,451.9 662.5,448.5 663.3,445.1 664.2,454.2 665.1,459.9 665.9,447.3 666.7,450.7 667.4,454.2 668.2,448.5 669.0,445.1 669.9,441.6 670.8,437.1 671.6,448.5 672.4,451.9 673.1,442.8 673.9,429.1 674.7,421.1 675.4,442.8 676.2,454.2 677.0,443.9 677.9,463.3 678.8,451.9 679.6,462.1" fill="none" stroke="#111" stroke-width="1.3" stroke-linejoin="round"/>
<polyline points="534.1,437.1 545.4,437.1 553.8,462.0 679.4,462.0" fill="none" stroke="#ee4433" stroke-width="1.2"/>
<circle cx="552.6" cy="462.0" r="5" fill="none" stroke="#2a10ff" stroke-width="1.1"/>
<text transform="translate(534.10 519.50) scale(1 1.07)" y="3.22" font-size="9" text-anchor="middle">14</text>
<text transform="translate(563.16 519.50) scale(1 1.07)" y="3.22" font-size="9" text-anchor="middle">15</text>
<text transform="translate(592.22 519.50) scale(1 1.07)" y="3.22" font-size="9" text-anchor="middle">16</text>
<text transform="translate(621.28 519.50) scale(1 1.07)" y="3.22" font-size="9" text-anchor="middle">17</text>
<text transform="translate(650.34 519.50) scale(1 1.07)" y="3.22" font-size="9" text-anchor="middle">18</text>
<text transform="translate(679.40 519.50) scale(1 1.07)" y="3.22" font-size="9" text-anchor="middle">19</text>
<text transform="translate(524.80 415.20) scale(1 1.07)" y="3.1" font-size="9" text-anchor="end">-9</text>
<text transform="translate(524.80 433.30) scale(1 1.07)" y="3.1" font-size="9" text-anchor="end">-8</text>
<text transform="translate(524.80 451.40) scale(1 1.07)" y="3.1" font-size="9" text-anchor="end">-7</text>
<text transform="translate(524.80 469.50) scale(1 1.07)" y="3.1" font-size="9" text-anchor="end">-6</text>
<text transform="translate(524.80 487.60) scale(1 1.07)" y="3.1" font-size="9" text-anchor="end">-5</text>
<text transform="translate(524.80 505.70) scale(1 1.07)" y="3.1" font-size="9" text-anchor="end">-4</text>
<path d="M548.63 505.70V501.40M563.16 505.70V498.70M577.69 505.70V501.40M592.22 505.70V498.70M606.75 505.70V501.40M621.28 505.70V498.70M635.81 505.70V501.40M650.34 505.70V498.70M664.87 505.70V501.40M679.40 505.70V498.70M534.10 415.20H541.60M534.10 424.25H538.70M534.10 433.30H541.60M534.10 442.35H538.70M534.10 451.40H541.60M534.10 460.45H538.70M534.10 469.50H541.60M534.10 478.55H538.70M534.10 487.60H541.60M534.10 496.65H538.70M534.10 415.20V505.70H679.40" stroke="#000" stroke-width="1.1" fill="none"/>
<text x="622.25" y="534.50" font-size="10" text-anchor="middle">Age/ka</text>
<text x="547.4" y="424.9" font-size="10">h</text>
<text x="618.8" y="416.9" font-size="10.3" fill="#2a10ff" text-anchor="middle">14.5 ±0.076 ka</text>
<text transform="translate(488.0 461.9) rotate(-90)" font-size="10" text-anchor="middle">Hulu Cave</text>
<text transform="translate(499.5 461.9) rotate(-90)" font-size="10" text-anchor="middle">No.H82 δ<tspan font-size="6" dy="-4">18</tspan><tspan dy="4">O</tspan></text>
<text transform="translate(511.5 461.9) rotate(-90)" font-size="10" text-anchor="middle">(‰)</text>
<polygon points="66.0,624.7 68.5,647.1 70.4,631.7 71.8,645.2 74.6,644.1 77.2,644.8 80.0,640.1 82.6,642.2 84.2,634.7 85.6,632.4 90.7,642.9 95.4,655.7 100.6,651.5 105.5,661.6 108.3,644.8 110.6,657.1 115.5,634.0 120.6,661.1 125.8,652.7 130.7,658.8 133.5,640.3 135.6,650.4 141.0,645.9 145.9,650.6 150.8,649.9 155.7,663.2 158.5,644.1 160.8,642.4 165.3,660.6 169.7,643.6 174.4,663.2 178.8,627.2 180.7,634.7 183.0,629.6 187.7,638.2 192.4,624.2 197.0,659.7 201.5,627.7 203.8,614.9 206.1,600.1 206.1,623.1 203.8,637.9 201.5,650.7 197.0,682.7 192.4,647.2 187.7,661.2 183.0,652.6 180.7,657.7 178.8,650.2 174.4,686.2 169.7,666.6 165.3,683.6 160.8,665.4 158.5,667.1 155.7,686.2 150.8,672.9 145.9,673.6 141.0,668.9 135.6,673.4 133.5,663.3 130.7,681.8 125.8,675.7 120.6,684.1 115.5,657.0 110.6,680.1 108.3,667.8 105.5,684.6 100.6,674.5 95.4,678.7 90.7,665.9 85.6,655.4 84.2,657.7 82.6,665.2 80.0,663.1 77.2,667.8 74.6,667.1 71.8,668.2 70.4,654.7 68.5,670.1 66.0,647.7" fill="#f2f2f2"/>
<polyline points="66.0,636.7 68.5,659.1 70.4,643.7 71.8,657.2 74.6,656.1 77.2,656.8 80.0,652.1 82.6,654.2 84.2,646.7 85.6,644.4 90.7,654.9 95.4,667.7 100.6,663.5 105.5,673.6 108.3,656.8 110.6,669.1 115.5,646.0 120.6,673.1 125.8,664.7 130.7,670.8 133.5,652.3 135.6,662.4 141.0,657.9 145.9,662.6 150.8,661.9 155.7,675.2 158.5,656.1 160.8,654.4 165.3,672.6 169.7,655.6 174.4,675.2 178.8,639.2 180.7,646.7 183.0,641.6 187.7,650.2 192.4,636.2 197.0,671.7 201.5,639.7 203.8,626.9 206.1,612.1" fill="none" stroke="#222" stroke-width="0.9" stroke-linejoin="round"/>
<circle cx="66.0" cy="636.7" r="1.4" fill="#222"/><circle cx="68.5" cy="659.1" r="1.4" fill="#222"/><circle cx="70.4" cy="643.7" r="1.4" fill="#222"/><circle cx="71.8" cy="657.2" r="1.4" fill="#222"/><circle cx="74.6" cy="656.1" r="1.4" fill="#222"/><circle cx="77.2" cy="656.8" r="1.4" fill="#222"/><circle cx="80.0" cy="652.1" r="1.4" fill="#222"/><circle cx="82.6" cy="654.2" r="1.4" fill="#222"/><circle cx="84.2" cy="646.7" r="1.4" fill="#222"/><circle cx="85.6" cy="644.4" r="1.4" fill="#222"/><circle cx="90.7" cy="654.9" r="1.4" fill="#222"/><circle cx="95.4" cy="667.7" r="1.4" fill="#222"/><circle cx="100.6" cy="663.5" r="1.4" fill="#222"/><circle cx="105.5" cy="673.6" r="1.4" fill="#222"/><circle cx="108.3" cy="656.8" r="1.4" fill="#222"/><circle cx="110.6" cy="669.1" r="1.4" fill="#222"/><circle cx="115.5" cy="646.0" r="1.4" fill="#222"/><circle cx="120.6" cy="673.1" r="1.4" fill="#222"/><circle cx="125.8" cy="664.7" r="1.4" fill="#222"/><circle cx="130.7" cy="670.8" r="1.4" fill="#222"/><circle cx="133.5" cy="652.3" r="1.4" fill="#222"/><circle cx="135.6" cy="662.4" r="1.4" fill="#222"/><circle cx="141.0" cy="657.9" r="1.4" fill="#222"/><circle cx="145.9" cy="662.6" r="1.4" fill="#222"/><circle cx="150.8" cy="661.9" r="1.4" fill="#222"/><circle cx="155.7" cy="675.2" r="1.4" fill="#222"/><circle cx="158.5" cy="656.1" r="1.4" fill="#222"/><circle cx="160.8" cy="654.4" r="1.4" fill="#222"/><circle cx="165.3" cy="672.6" r="1.4" fill="#222"/><circle cx="169.7" cy="655.6" r="1.4" fill="#222"/><circle cx="174.4" cy="675.2" r="1.4" fill="#222"/><circle cx="178.8" cy="639.2" r="1.4" fill="#222"/><circle cx="180.7" cy="646.7" r="1.4" fill="#222"/><circle cx="183.0" cy="641.6" r="1.4" fill="#222"/><circle cx="187.7" cy="650.2" r="1.4" fill="#222"/><circle cx="192.4" cy="636.2" r="1.4" fill="#222"/><circle cx="197.0" cy="671.7" r="1.4" fill="#222"/><circle cx="201.5" cy="639.7" r="1.4" fill="#222"/><circle cx="203.8" cy="626.9" r="1.4" fill="#222"/><circle cx="206.1" cy="612.1" r="1.4" fill="#222"/>
<polyline points="66.7,658.9 174.1,658.9 178.3,643.7 206.1,643.7" fill="none" stroke="#ee4433" stroke-width="1.2"/>
<circle cx="178.8" cy="644.4" r="5" fill="none" stroke="#2a10ff" stroke-width="1.1"/>
<text transform="translate(64.30 711.40) scale(1 1.07)" y="3.22" font-size="9" text-anchor="middle">14</text>
<text transform="translate(85.06 711.40) scale(1 1.07)" y="3.22" font-size="9" text-anchor="middle">15</text>
<text transform="translate(105.81 711.40) scale(1 1.07)" y="3.22" font-size="9" text-anchor="middle">16</text>
<text transform="translate(126.57 711.40) scale(1 1.07)" y="3.22" font-size="9" text-anchor="middle">17</text>
<text transform="translate(147.33 711.40) scale(1 1.07)" y="3.22" font-size="9" text-anchor="middle">18</text>
<text transform="translate(168.09 711.40) scale(1 1.07)" y="3.22" font-size="9" text-anchor="middle">19</text>
<text transform="translate(188.84 711.40) scale(1 1.07)" y="3.22" font-size="9" text-anchor="middle">20</text>
<text transform="translate(209.60 711.40) scale(1 1.07)" y="3.22" font-size="9" text-anchor="middle">21</text>
<text transform="translate(55.00 613.51) scale(1 1.07)" y="3.1" font-size="9" text-anchor="end">-0.4</text>
<text transform="translate(55.00 627.52) scale(1 1.07)" y="3.1" font-size="9" text-anchor="end">-0.2</text>
<text transform="translate(55.00 641.54) scale(1 1.07)" y="3.1" font-size="9" text-anchor="end">0</text>
<text transform="translate(55.00 655.55) scale(1 1.07)" y="3.1" font-size="9" text-anchor="end">0.2</text>
<text transform="translate(55.00 669.57) scale(1 1.07)" y="3.1" font-size="9" text-anchor="end">0.4</text>
<text transform="translate(55.00 683.58) scale(1 1.07)" y="3.1" font-size="9" text-anchor="end">0.6</text>
<text transform="translate(55.00 697.60) scale(1 1.07)" y="3.1" font-size="9" text-anchor="end">0.8</text>
<path d="M74.68 697.60V693.30M85.06 697.60V690.60M95.44 697.60V693.30M105.81 697.60V690.60M116.19 697.60V693.30M126.57 697.60V690.60M136.95 697.60V693.30M147.33 697.60V690.60M157.71 697.60V693.30M168.09 697.60V690.60M178.46 697.60V693.30M188.84 697.60V690.60M199.22 697.60V693.30M209.60 697.60V690.60M64.30 606.50H68.90M64.30 613.51H71.80M64.30 620.52H68.90M64.30 627.52H71.80M64.30 634.53H68.90M64.30 641.54H71.80M64.30 648.55H68.90M64.30 655.55H71.80M64.30 662.56H68.90M64.30 669.57H71.80M64.30 676.58H68.90M64.30 683.58H71.80M64.30 690.59H68.90M64.30 606.50V697.60H209.60" stroke="#000" stroke-width="1.1" fill="none"/>
<text x="152.45" y="726.40" font-size="10" text-anchor="middle">Age/ka</text>
<text x="76.5" y="615.9" font-size="10">i</text>
<text x="146.0" y="608.3" font-size="10.3" fill="#2a10ff" text-anchor="middle">19.5 ±0.08 ka</text>
<text transform="translate(9.0 652.0) rotate(-90)" font-size="10" text-anchor="middle">GeoB10069-3</text>
<text transform="translate(21.5 652.0) rotate(-90)" font-size="10" text-anchor="middle">δ<tspan font-size="6" dy="-4">18</tspan><tspan dy="4">O</tspan><tspan font-size="6" dy="2.5">SW</tspan></text>
<text transform="translate(33.0 652.0) rotate(-90)" font-size="10" text-anchor="middle">(‰)</text>
<polygon points="310.8,634.1 312.3,634.5 313.9,633.9 314.8,633.7 315.8,631.8 316.6,632.0 317.1,633.3 318.0,630.9 318.8,629.5 319.4,629.3 320.3,629.7 321.1,630.5 321.9,631.0 322.8,632.4 323.7,635.0 324.5,637.4 325.3,641.3 326.2,642.9 327.1,641.1 327.9,642.4 328.7,645.0 329.4,645.4 330.2,646.3 331.0,646.6 331.9,647.4 332.8,650.7 333.6,651.2 334.4,650.2 335.3,650.2 336.2,649.8 337.0,647.9 337.8,647.4 338.7,648.5 339.9,649.8 341.0,651.3 342.2,654.9 343.3,656.5 344.4,657.4 345.6,659.8 346.5,663.4 347.3,664.6 348.1,663.9 348.8,660.8 349.6,659.7 350.4,659.0 351.3,656.8 352.2,652.8 353.0,651.2 353.8,650.4 354.7,650.2 355.6,652.8 356.4,654.5 357.2,654.8 358.1,654.0 359.0,650.9 359.8,651.9 360.6,654.6 361.3,653.0 362.1,652.8 362.9,653.5 363.8,655.1 364.7,658.4 365.5,657.6 366.3,655.3 367.2,654.5 368.1,652.8 368.9,650.7 369.7,650.6 370.6,649.8 371.5,649.6 372.3,649.6 373.1,650.1 374.0,651.9 375.0,653.5 375.8,653.5 376.5,654.6 377.5,655.1 378.4,655.3 379.2,654.8 380.0,653.3 380.9,653.0 381.8,652.8 382.6,653.3 384.1,653.3 385.3,652.2 386.4,650.7 387.6,647.9 388.7,646.3 389.6,644.6 390.4,641.9 391.2,640.4 392.1,639.4 393.0,639.4 393.8,642.3 394.6,643.4 395.3,644.9 396.1,645.2 396.9,644.7 397.6,645.4 398.4,645.0 399.2,644.1 399.9,643.6 400.6,642.4 401.4,642.9 402.4,643.7 403.5,643.6 405.2,643.7 406.9,642.8 408.6,641.3 410.3,640.2 412.0,639.8 413.7,640.3 414.9,641.5 416.0,642.8 417.2,644.3 418.3,645.6 420.0,645.6 421.7,644.1 422.9,643.0 423.8,641.1 424.2,639.5 424.9,638.3 425.7,637.3 426.5,636.9 427.4,636.9 428.3,635.8 429.1,635.6 429.9,634.5 430.8,632.4 431.7,630.3 432.5,629.4 433.3,629.3 434.2,628.6 434.8,627.0 435.6,627.1 436.5,628.8 437.1,629.9 437.9,629.3 438.8,629.3 439.7,631.9 440.5,633.2 441.3,633.0 442.2,631.4 442.8,629.9 443.6,629.6 444.5,628.6 445.3,627.0 445.9,626.5 446.5,626.7 447.3,628.1 448.1,630.7 448.8,633.5 449.6,635.9 450.4,636.6 451.1,638.0 451.9,639.5 452.7,641.0 453.6,641.7 454.5,641.8 455.3,641.3 455.3,659.3 454.5,659.8 453.6,659.7 452.7,659.0 451.9,657.5 451.1,656.0 450.4,654.6 449.6,653.9 448.8,651.5 448.1,648.7 447.3,646.1 446.5,644.7 445.9,644.5 445.3,645.0 444.5,646.6 443.6,647.6 442.8,647.9 442.2,649.4 441.3,651.0 440.5,651.2 439.7,649.9 438.8,647.3 437.9,647.3 437.1,647.9 436.5,646.8 435.6,645.1 434.8,645.0 434.2,646.6 433.3,647.3 432.5,647.4 431.7,648.3 430.8,650.4 429.9,652.5 429.1,653.6 428.3,653.8 427.4,654.9 426.5,654.9 425.7,655.3 424.9,656.3 424.2,657.5 423.8,659.1 422.9,661.0 421.7,662.1 420.0,663.6 418.3,663.6 417.2,662.3 416.0,660.8 414.9,659.5 413.7,658.3 412.0,657.8 410.3,658.2 408.6,659.3 406.9,660.8 405.2,661.7 403.5,661.6 402.4,661.7 401.4,660.9 400.6,660.4 399.9,661.6 399.2,662.1 398.4,663.0 397.6,663.4 396.9,662.7 396.1,663.2 395.3,662.9 394.6,661.4 393.8,660.3 393.0,657.4 392.1,657.4 391.2,658.4 390.4,659.9 389.6,662.6 388.7,664.3 387.6,665.9 386.4,668.7 385.3,670.2 384.1,671.3 382.6,671.3 381.8,670.8 380.9,671.0 380.0,671.3 379.2,672.8 378.4,673.3 377.5,673.1 376.5,672.6 375.8,671.5 375.0,671.5 374.0,669.9 373.1,668.1 372.3,667.6 371.5,667.6 370.6,667.8 369.7,668.6 368.9,668.7 368.1,670.8 367.2,672.5 366.3,673.3 365.5,675.6 364.7,676.4 363.8,673.1 362.9,671.5 362.1,670.8 361.3,671.0 360.6,672.6 359.8,669.9 359.0,668.9 358.1,672.0 357.2,672.8 356.4,672.5 355.6,670.8 354.7,668.2 353.8,668.4 353.0,669.2 352.2,670.8 351.3,674.8 350.4,677.0 349.6,677.7 348.8,678.8 348.1,681.9 347.3,682.6 346.5,681.4 345.6,677.8 344.4,675.4 343.3,674.5 342.2,672.9 341.0,669.3 339.9,667.8 338.7,666.5 337.8,665.4 337.0,665.9 336.2,667.8 335.3,668.2 334.4,668.2 333.6,669.2 332.8,668.7 331.9,665.4 331.0,664.6 330.2,664.3 329.4,663.4 328.7,663.0 327.9,660.4 327.1,659.1 326.2,660.9 325.3,659.3 324.5,655.4 323.7,653.0 322.8,650.4 321.9,649.0 321.1,648.5 320.3,647.7 319.4,647.3 318.8,647.5 318.0,648.9 317.1,651.3 316.6,650.0 315.8,649.8 314.8,651.7 313.9,651.9 312.3,652.5 310.8,652.1" fill="#f4f4f4"/>
<polyline points="310.8,652.0 312.3,640.0 313.9,628.5 314.8,652.0 315.8,645.0 316.6,640.0 317.1,641.2 318.0,638.9 318.8,641.2 319.4,637.8 320.3,634.9 321.1,635.5 321.9,638.9 322.8,643.5 323.7,644.6 324.5,644.6 325.3,648.0 326.2,652.6 327.1,652.6 327.9,666.2 328.7,654.9 329.4,631.5 330.2,653.7 331.0,666.2 331.9,656.0 332.8,658.3 333.6,668.5 334.4,660.5 335.3,654.9 336.2,657.1 337.0,659.4 337.8,656.0 338.7,654.9 339.9,655.4 341.0,657.1 342.2,662.8 343.3,666.2 344.4,669.7 345.6,681.0 346.5,666.2 347.3,661.7 348.1,674.2 348.8,687.9 349.6,674.2 350.4,665.1 351.3,659.4 352.2,658.3 353.0,657.1 353.8,658.3 354.7,660.5 355.6,662.8 356.4,659.4 357.2,658.3 358.1,676.5 359.0,668.5 359.8,660.5 360.6,654.9 361.3,641.2 362.1,666.2 362.9,677.6 363.8,665.1 364.7,667.4 365.5,665.1 366.3,666.2 367.2,664.0 368.1,660.5 368.9,661.7 369.7,659.4 370.6,656.0 371.5,650.3 372.3,665.1 373.1,658.3 374.0,659.4 375.0,661.7 375.8,662.8 376.5,668.5 377.5,661.7 378.4,665.1 379.2,666.2 380.0,662.8 380.9,662.8 381.8,659.4 382.6,658.3 384.1,659.4 385.3,664.0 386.4,669.7 387.6,662.8 388.7,654.9 389.6,649.2 390.4,638.3 391.2,648.0 392.1,652.6 393.0,650.3 393.8,652.6 394.6,648.0 395.3,649.2 396.1,658.3 396.9,656.0 397.6,662.8 398.4,652.6 399.2,649.2 399.9,652.6 400.6,646.9 401.4,651.4 402.4,652.6 403.5,654.9 405.2,656.0 406.9,654.9 408.6,651.4 410.3,648.0 412.0,644.6 413.7,642.3 414.9,646.9 416.0,653.7 417.2,658.3 418.3,660.0 420.0,657.1 421.7,654.9 422.9,651.4 423.8,646.9 424.2,643.5 424.9,650.3 425.7,646.9 426.5,645.7 427.4,646.3 428.3,644.6 429.1,644.0 429.9,643.5 430.8,642.3 431.7,645.7 432.5,637.8 433.3,632.1 434.2,629.8 434.8,637.8 435.6,642.3 436.5,637.8 437.1,634.4 437.9,638.9 438.8,643.5 439.7,637.8 440.5,633.2 441.3,642.3 442.2,656.0 442.8,643.5 443.6,637.8 444.5,632.1 445.3,627.5 445.9,630.9 446.5,635.5 447.3,644.6 448.1,640.1 448.8,638.9 449.6,642.3 450.4,645.7 451.1,650.3 451.9,652.6 452.7,649.2 453.6,650.3 454.5,649.2 455.3,652.6" fill="none" stroke="#3a3a3a" stroke-width="1.1" stroke-linejoin="round"/>
<polyline points="310.1,653.7 423.0,653.7 424.6,643.9 455.2,643.9" fill="none" stroke="#ee4433" stroke-width="1.2"/>
<circle cx="424.8" cy="645.1" r="5" fill="none" stroke="#2a10ff" stroke-width="1.1"/>
<text transform="translate(310.10 713.10) scale(1 1.07)" y="3.22" font-size="9" text-anchor="middle">14</text>
<text transform="translate(330.90 713.10) scale(1 1.07)" y="3.22" font-size="9" text-anchor="middle">15</text>
<text transform="translate(351.70 713.10) scale(1 1.07)" y="3.22" font-size="9" text-anchor="middle">16</text>
<text transform="translate(372.50 713.10) scale(1 1.07)" y="3.22" font-size="9" text-anchor="middle">17</text>
<text transform="translate(393.30 713.10) scale(1 1.07)" y="3.22" font-size="9" text-anchor="middle">18</text>
<text transform="translate(414.10 713.10) scale(1 1.07)" y="3.22" font-size="9" text-anchor="middle">19</text>
<text transform="translate(434.90 713.10) scale(1 1.07)" y="3.22" font-size="9" text-anchor="middle">20</text>
<text transform="translate(455.70 713.10) scale(1 1.07)" y="3.22" font-size="9" text-anchor="middle">21</text>
<text transform="translate(300.80 608.20) scale(1 1.07)" y="3.1" font-size="9" text-anchor="end">-0.4</text>
<text transform="translate(300.80 619.59) scale(1 1.07)" y="3.1" font-size="9" text-anchor="end">-0.2</text>
<text transform="translate(300.80 630.98) scale(1 1.07)" y="3.1" font-size="9" text-anchor="end">0</text>
<text transform="translate(300.80 642.36) scale(1 1.07)" y="3.1" font-size="9" text-anchor="end">0.2</text>
<text transform="translate(300.80 653.75) scale(1 1.07)" y="3.1" font-size="9" text-anchor="end">0.4</text>
<text transform="translate(300.80 665.14) scale(1 1.07)" y="3.1" font-size="9" text-anchor="end">0.6</text>
<text transform="translate(300.80 676.52) scale(1 1.07)" y="3.1" font-size="9" text-anchor="end">0.8</text>
<text transform="translate(300.80 687.91) scale(1 1.07)" y="3.1" font-size="9" text-anchor="end">1</text>
<text transform="translate(300.80 699.30) scale(1 1.07)" y="3.1" font-size="9" text-anchor="end">1.2</text>
<path d="M320.50 699.30V695.00M330.90 699.30V692.30M341.30 699.30V695.00M351.70 699.30V692.30M362.10 699.30V695.00M372.50 699.30V692.30M382.90 699.30V695.00M393.30 699.30V692.30M403.70 699.30V695.00M414.10 699.30V692.30M424.50 699.30V695.00M434.90 699.30V692.30M445.30 699.30V695.00M455.70 699.30V692.30M310.10 608.20H317.60M310.10 613.89H314.70M310.10 619.59H317.60M310.10 625.28H314.70M310.10 630.98H317.60M310.10 636.67H314.70M310.10 642.36H317.60M310.10 648.06H314.70M310.10 653.75H317.60M310.10 659.44H314.70M310.10 665.14H317.60M310.10 670.83H314.70M310.10 676.52H317.60M310.10 682.22H314.70M310.10 687.91H317.60M310.10 693.61H314.70M310.10 608.20V699.30H455.70" stroke="#000" stroke-width="1.1" fill="none"/>
<text x="398.40" y="728.10" font-size="10" text-anchor="middle">Age/ka</text>
<text x="324.6" y="619.5" font-size="10">j</text>
<text x="391.9" y="610.5" font-size="10.3" fill="#2a10ff" text-anchor="middle">19.5 ±0.04 ka</text>
<text transform="translate(255.0 653.8) rotate(-90)" font-size="10" text-anchor="middle">SO189-39KL</text>
<text transform="translate(267.5 653.8) rotate(-90)" font-size="10" text-anchor="middle">δ<tspan font-size="6" dy="-4">18</tspan><tspan dy="4">O</tspan><tspan font-size="6" dy="2.5">SW</tspan></text>
<text transform="translate(279.5 653.8) rotate(-90)" font-size="10" text-anchor="middle">(‰)</text>
</svg></body></html>
